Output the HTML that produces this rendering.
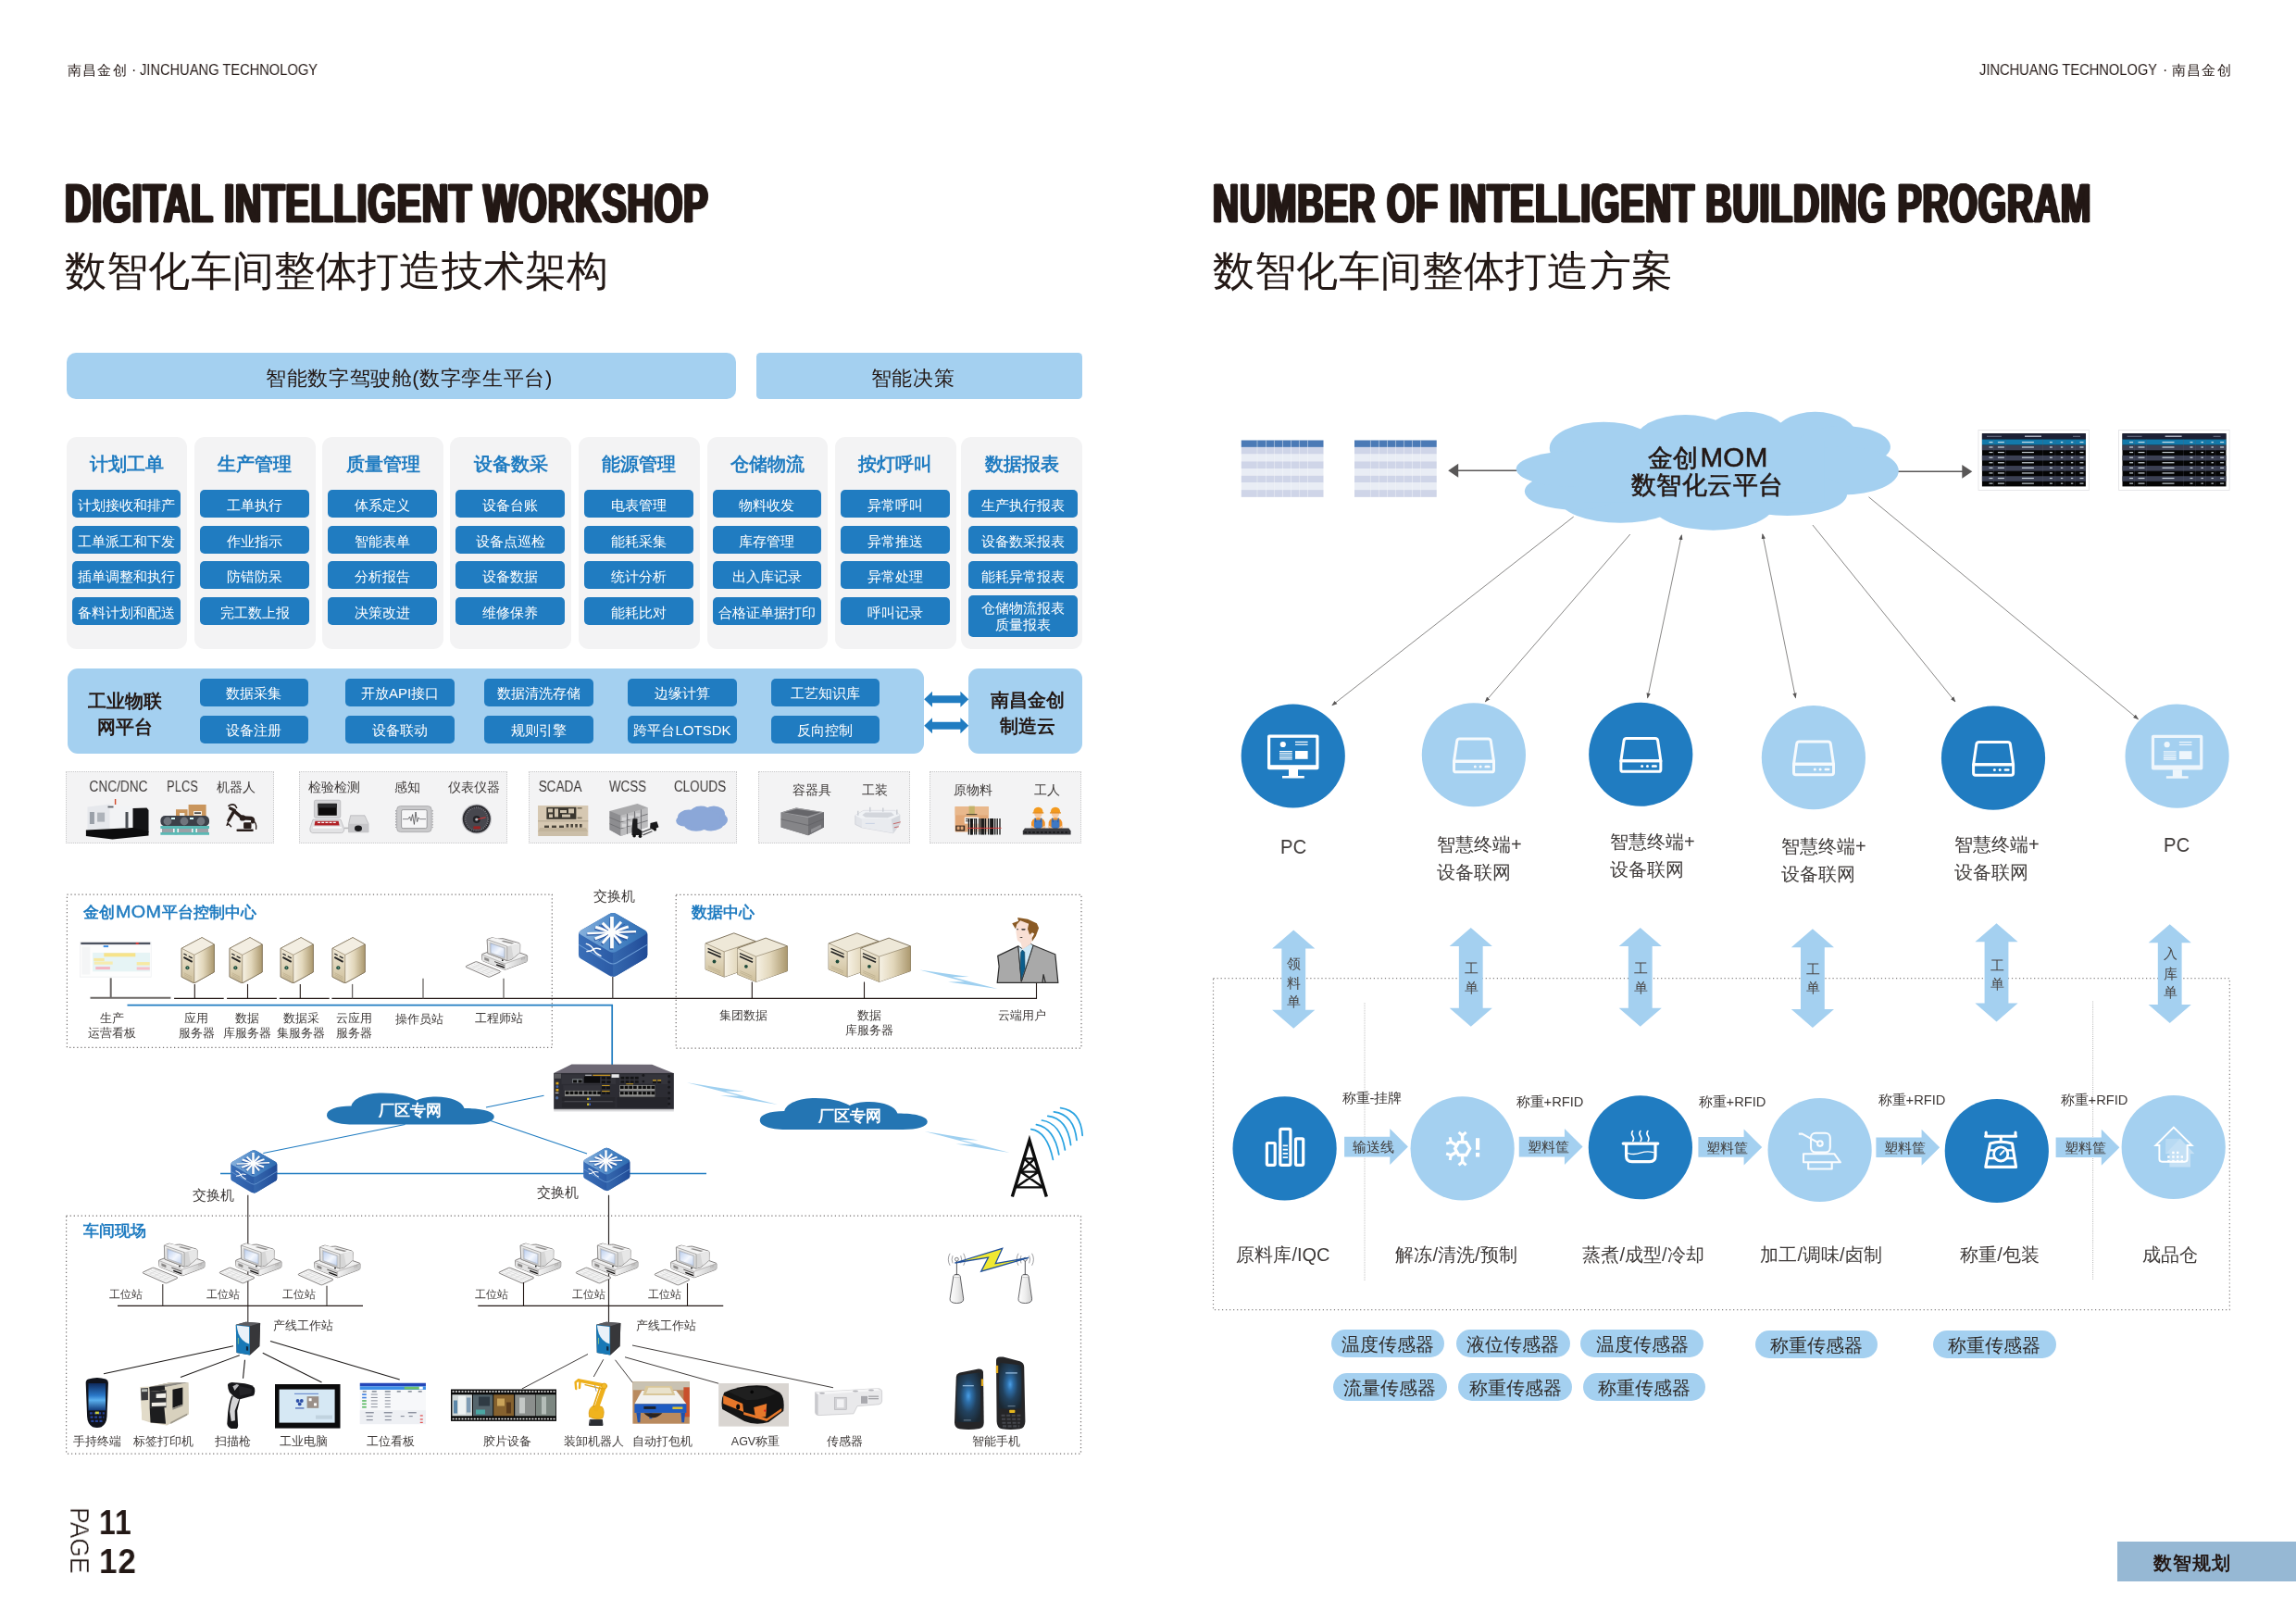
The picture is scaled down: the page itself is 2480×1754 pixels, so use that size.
<!DOCTYPE html>
<html lang="zh"><head><meta charset="utf-8"><title>Digital Intelligent Workshop</title>
<style>
html,body{margin:0;padding:0;background:#fff;}
body{width:2480px;height:1754px;overflow:hidden;font-family:"Liberation Sans",sans-serif;}
#page{position:relative;width:2480px;height:1754px;overflow:hidden;background:#fff;}
.t{will-change:transform;}
.t{position:absolute;white-space:nowrap;margin:0;padding:0;}
.b{position:absolute;}
svg.ov{position:absolute;left:0;top:0;}
</style></head><body><div id="page">
<div class="b" style="left:72.00px;top:381.00px;width:723.10px;height:50.00px;background:#a4d0f0;border-radius:10px;"></div>
<div class="b" style="left:817.20px;top:381.00px;width:352.00px;height:50.00px;background:#a4d0f0;border-radius:4.5px;"></div>
<div class="b" style="left:71.50px;top:471.50px;width:130.50px;height:229.25px;background:#f3f3f4;border-radius:11px;"></div>
<div class="b" style="left:77.60px;top:529.10px;width:117.50px;height:30.00px;background:#207cc1;border-radius:5px;"></div>
<div class="b" style="left:77.60px;top:567.90px;width:117.50px;height:30.00px;background:#207cc1;border-radius:5px;"></div>
<div class="b" style="left:77.60px;top:606.20px;width:117.50px;height:30.00px;background:#207cc1;border-radius:5px;"></div>
<div class="b" style="left:77.60px;top:644.90px;width:117.50px;height:30.00px;background:#207cc1;border-radius:5px;"></div>
<div class="b" style="left:210.00px;top:471.50px;width:130.50px;height:229.25px;background:#f3f3f4;border-radius:11px;"></div>
<div class="b" style="left:216.10px;top:529.10px;width:117.50px;height:30.00px;background:#207cc1;border-radius:5px;"></div>
<div class="b" style="left:216.10px;top:567.90px;width:117.50px;height:30.00px;background:#207cc1;border-radius:5px;"></div>
<div class="b" style="left:216.10px;top:606.20px;width:117.50px;height:30.00px;background:#207cc1;border-radius:5px;"></div>
<div class="b" style="left:216.10px;top:644.90px;width:117.50px;height:30.00px;background:#207cc1;border-radius:5px;"></div>
<div class="b" style="left:348.25px;top:471.50px;width:130.50px;height:229.25px;background:#f3f3f4;border-radius:11px;"></div>
<div class="b" style="left:354.35px;top:529.10px;width:117.50px;height:30.00px;background:#207cc1;border-radius:5px;"></div>
<div class="b" style="left:354.35px;top:567.90px;width:117.50px;height:30.00px;background:#207cc1;border-radius:5px;"></div>
<div class="b" style="left:354.35px;top:606.20px;width:117.50px;height:30.00px;background:#207cc1;border-radius:5px;"></div>
<div class="b" style="left:354.35px;top:644.90px;width:117.50px;height:30.00px;background:#207cc1;border-radius:5px;"></div>
<div class="b" style="left:486.25px;top:471.50px;width:130.50px;height:229.25px;background:#f3f3f4;border-radius:11px;"></div>
<div class="b" style="left:492.35px;top:529.10px;width:117.50px;height:30.00px;background:#207cc1;border-radius:5px;"></div>
<div class="b" style="left:492.35px;top:567.90px;width:117.50px;height:30.00px;background:#207cc1;border-radius:5px;"></div>
<div class="b" style="left:492.35px;top:606.20px;width:117.50px;height:30.00px;background:#207cc1;border-radius:5px;"></div>
<div class="b" style="left:492.35px;top:644.90px;width:117.50px;height:30.00px;background:#207cc1;border-radius:5px;"></div>
<div class="b" style="left:625.00px;top:471.50px;width:130.50px;height:229.25px;background:#f3f3f4;border-radius:11px;"></div>
<div class="b" style="left:631.10px;top:529.10px;width:117.50px;height:30.00px;background:#207cc1;border-radius:5px;"></div>
<div class="b" style="left:631.10px;top:567.90px;width:117.50px;height:30.00px;background:#207cc1;border-radius:5px;"></div>
<div class="b" style="left:631.10px;top:606.20px;width:117.50px;height:30.00px;background:#207cc1;border-radius:5px;"></div>
<div class="b" style="left:631.10px;top:644.90px;width:117.50px;height:30.00px;background:#207cc1;border-radius:5px;"></div>
<div class="b" style="left:763.50px;top:471.50px;width:130.50px;height:229.25px;background:#f3f3f4;border-radius:11px;"></div>
<div class="b" style="left:769.60px;top:529.10px;width:117.50px;height:30.00px;background:#207cc1;border-radius:5px;"></div>
<div class="b" style="left:769.60px;top:567.90px;width:117.50px;height:30.00px;background:#207cc1;border-radius:5px;"></div>
<div class="b" style="left:769.60px;top:606.20px;width:117.50px;height:30.00px;background:#207cc1;border-radius:5px;"></div>
<div class="b" style="left:769.60px;top:644.90px;width:117.50px;height:30.00px;background:#207cc1;border-radius:5px;"></div>
<div class="b" style="left:902.00px;top:471.50px;width:130.50px;height:229.25px;background:#f3f3f4;border-radius:11px;"></div>
<div class="b" style="left:908.10px;top:529.10px;width:117.50px;height:30.00px;background:#207cc1;border-radius:5px;"></div>
<div class="b" style="left:908.10px;top:567.90px;width:117.50px;height:30.00px;background:#207cc1;border-radius:5px;"></div>
<div class="b" style="left:908.10px;top:606.20px;width:117.50px;height:30.00px;background:#207cc1;border-radius:5px;"></div>
<div class="b" style="left:908.10px;top:644.90px;width:117.50px;height:30.00px;background:#207cc1;border-radius:5px;"></div>
<div class="b" style="left:1038.25px;top:471.50px;width:130.50px;height:229.25px;background:#f3f3f4;border-radius:11px;"></div>
<div class="b" style="left:1046.05px;top:529.10px;width:117.50px;height:30.00px;background:#207cc1;border-radius:5px;"></div>
<div class="b" style="left:1046.05px;top:567.90px;width:117.50px;height:30.00px;background:#207cc1;border-radius:5px;"></div>
<div class="b" style="left:1046.05px;top:606.20px;width:117.50px;height:30.00px;background:#207cc1;border-radius:5px;"></div>
<div class="b" style="left:1046.05px;top:642.75px;width:117.50px;height:44.75px;background:#207cc1;border-radius:5px;"></div>
<div class="b" style="left:72.50px;top:721.50px;width:925.50px;height:92.75px;background:#a4d0f0;border-radius:11px;"></div>
<div class="b" style="left:1046.25px;top:721.50px;width:122.50px;height:92.75px;background:#a4d0f0;border-radius:11px;"></div>
<div class="b" style="left:215.50px;top:732.50px;width:117.50px;height:30.00px;background:#207cc1;border-radius:5px;"></div>
<div class="b" style="left:215.50px;top:772.50px;width:117.50px;height:30.00px;background:#207cc1;border-radius:5px;"></div>
<div class="b" style="left:373.00px;top:732.50px;width:117.50px;height:30.00px;background:#207cc1;border-radius:5px;"></div>
<div class="b" style="left:373.00px;top:772.50px;width:117.50px;height:30.00px;background:#207cc1;border-radius:5px;"></div>
<div class="b" style="left:523.25px;top:732.50px;width:117.50px;height:30.00px;background:#207cc1;border-radius:5px;"></div>
<div class="b" style="left:523.25px;top:772.50px;width:117.50px;height:30.00px;background:#207cc1;border-radius:5px;"></div>
<div class="b" style="left:678.00px;top:732.50px;width:117.50px;height:30.00px;background:#207cc1;border-radius:5px;"></div>
<div class="b" style="left:678.00px;top:772.50px;width:117.50px;height:30.00px;background:#207cc1;border-radius:5px;"></div>
<div class="b" style="left:832.50px;top:732.50px;width:117.50px;height:30.00px;background:#207cc1;border-radius:5px;"></div>
<div class="b" style="left:832.50px;top:772.50px;width:117.50px;height:30.00px;background:#207cc1;border-radius:5px;"></div>
<div class="b" style="left:71.25px;top:832.50px;width:224.50px;height:78.00px;background:#f3f3f4;border:1px dotted #c9c9ca;box-sizing:border-box;"></div>
<div class="b" style="left:323.00px;top:832.50px;width:224.50px;height:78.00px;background:#f3f3f4;border:1px dotted #c9c9ca;box-sizing:border-box;"></div>
<div class="b" style="left:571.25px;top:832.50px;width:224.50px;height:78.00px;background:#f3f3f4;border:1px dotted #c9c9ca;box-sizing:border-box;"></div>
<div class="b" style="left:819.00px;top:832.50px;width:163.75px;height:78.00px;background:#f3f3f4;border:1px dotted #c9c9ca;box-sizing:border-box;"></div>
<div class="b" style="left:1003.75px;top:832.50px;width:164.50px;height:78.00px;background:#f3f3f4;border:1px dotted #c9c9ca;box-sizing:border-box;"></div>
<div class="b" style="left:1437.50px;top:1435.90px;width:122.70px;height:30.30px;background:#a4d0f0;border-radius:15.2px;"></div>
<div class="b" style="left:1572.60px;top:1435.90px;width:123.10px;height:30.30px;background:#a4d0f0;border-radius:15.2px;"></div>
<div class="b" style="left:1707.10px;top:1435.90px;width:133.10px;height:30.30px;background:#a4d0f0;border-radius:15.2px;"></div>
<div class="b" style="left:1895.80px;top:1436.90px;width:132.60px;height:30.30px;background:#a4d0f0;border-radius:15.2px;"></div>
<div class="b" style="left:2088.00px;top:1436.90px;width:132.60px;height:30.30px;background:#a4d0f0;border-radius:15.2px;"></div>
<div class="b" style="left:1439.50px;top:1483.10px;width:123.20px;height:30.30px;background:#a4d0f0;border-radius:15.2px;"></div>
<div class="b" style="left:1575.10px;top:1483.10px;width:123.10px;height:30.30px;background:#a4d0f0;border-radius:15.2px;"></div>
<div class="b" style="left:1709.60px;top:1483.10px;width:132.60px;height:30.30px;background:#a4d0f0;border-radius:15.2px;"></div>
<div class="b" style="left:2286.60px;top:1665.00px;width:193.40px;height:42.70px;background:#96b8d4;"></div>
<svg class="ov" width="2480" height="1754" viewBox="0 0 2480 1754">
<defs>
<linearGradient id="gSrvR" x1="0" y1="0" x2="1" y2="0"><stop offset="0" stop-color="#f6f1e4"/><stop offset="0.45" stop-color="#e2d7bb"/><stop offset="1" stop-color="#ab986e"/></linearGradient>
<linearGradient id="gSrvF" x1="0" y1="0" x2="0" y2="1"><stop offset="0" stop-color="#efe8d6"/><stop offset="1" stop-color="#cfc09c"/></linearGradient>
<linearGradient id="gSwT" x1="0" y1="0" x2="1" y2="0"><stop offset="0" stop-color="#86b0dc"/><stop offset="0.55" stop-color="#4a86c6"/><stop offset="1" stop-color="#2e6bb0"/></linearGradient>
<linearGradient id="gSwL" x1="0" y1="0" x2="1" y2="0"><stop offset="0" stop-color="#3a6fb8"/><stop offset="1" stop-color="#1d4793"/></linearGradient>
<linearGradient id="gSwR" x1="0" y1="0" x2="1" y2="0"><stop offset="0" stop-color="#3568ae"/><stop offset="0.6" stop-color="#2a58a2"/><stop offset="1" stop-color="#1f4a96"/></linearGradient>
<linearGradient id="gScr" x1="0" y1="0" x2="1" y2="1"><stop offset="0" stop-color="#b9cdee"/><stop offset="0.55" stop-color="#f4f7fd"/><stop offset="1" stop-color="#c3d3ee"/></linearGradient>
<linearGradient id="gPcB" x1="0" y1="0" x2="1" y2="0"><stop offset="0" stop-color="#f4f4f4"/><stop offset="1" stop-color="#c4c4c4"/></linearGradient>
<symbol id="srv" viewBox="0 0 36 50" overflow="visible">
 <path d="M22.2 0 L35.5 7.4 L35.5 37.8 L14.5 49.4 Q12.5 49.6 11 48.6 L0 43 L0 11.8 Z" fill="#e9e1cc" stroke="#6f6249" stroke-width="0.9" stroke-linejoin="round"/>
 <path d="M22.2 0 L35.5 7.4 L13.8 19 L0 11.8 Z" fill="#f3eee2"/>
 <path d="M13.8 19 L35.5 7.4 L35.5 37.8 L13.8 49.3 Z" fill="url(#gSrvR)"/>
 <path d="M0 11.8 L13.8 19 L13.8 49.3 L0 43 Z" fill="url(#gSrvF)"/>
 <path d="M22.2 0 L35.5 7.4 L35.5 37.8 L14.5 49.4 Q12.5 49.6 11 48.6 L0 43 L0 11.8 Z M0 11.8 L13.8 19 L35.5 7.4 M13.8 19 L13.8 49.3" fill="none" stroke="#7d6f55" stroke-width="0.6" stroke-linejoin="round"/>
 <path d="M2.2 17.6 L5.6 19.4 M7.6 20.4 L11.6 22.5" stroke="#222" stroke-width="1.3"/>
 <path d="M2.2 21.6 L11.6 26.6" stroke="#222" stroke-width="1.9"/>
 <circle cx="6.3" cy="33" r="2.1" fill="#1d4a3a"/><circle cx="6.3" cy="33" r="0.8" fill="#7fb39c"/>
 <path d="M2.4 38.6 L11.4 43.2 M2.4 40.4 L11.4 45 M2.4 42.2 L11.4 46.8" stroke="#b9ab8b" stroke-width="0.7"/>
</symbol>
<symbol id="pc" viewBox="0 0 67.2 42.6" overflow="visible">
 <!-- keyboard -->
 <path d="M0.6 31.9 Q-0.2 31.2 1 30.6 L10.6 26.2 Q11.6 25.8 12.6 26.2 L37.4 36.2 Q38.6 36.8 37.4 37.5 L26.6 42.4 Q25.5 42.9 24.4 42.4 Z" fill="#f7f7f7" stroke="#6f6b6a" stroke-width="0.85" stroke-linejoin="round"/>
 <path d="M3.4 31.2 L27 40.9 M6.2 29.9 L29.8 39.6 M9 28.6 L32.6 38.3 M11.4 27.4 L35 37.1 M7.6 32.9 L14.8 29.6 M12.6 35 L19.8 31.7 M17.6 37.1 L24.8 33.8 M22.6 39.2 L29.8 35.9" stroke="#cfcfcf" stroke-width="0.55" fill="none"/>
 <!-- base case -->
 <path d="M17.8 18.6 Q17.6 17.8 18.6 17.6 L40 9.6 L66.4 19 Q67.2 19.4 67.1 20.2 L67 24.8 Q67 25.6 66 26.1 L44 34.3 Q42.7 34.8 41.4 34.2 L19 25.2 Q18.1 24.8 18.1 24 Z" fill="#efefef" stroke="#6f6b6a" stroke-width="0.85" stroke-linejoin="round"/>
 <path d="M18.1 18.4 L42.7 28.1 L42.7 34.5 L19 25.2 Q18.1 24.8 18.1 24 Z" fill="#e2e2e2"/>
 <path d="M42.7 28.1 L67 19.6 L67 24.8 Q67 25.6 66 26.1 L42.7 34.5 Z" fill="url(#gPcB)"/>
 <path d="M18.1 18.4 L42.7 28.1 L67 19.6 M42.7 28.1 L42.7 34.4" fill="none" stroke="#8a8786" stroke-width="0.5"/>
 <path d="M20.5 21.1 L25.5 23.1 L25.5 26.1 L20.5 24.1 Z" fill="#8c8a89"/>
 <path d="M31.4 25.9 L42.1 29.9" stroke="#3b3837" stroke-width="0.9"/>
 <path d="M33.4 29.2 L42.1 32.4" stroke="#0f0d0d" stroke-width="1.5"/>
 <path d="M61 21.4 L61 24.4 M62.4 20.9 L62.4 23.9 M63.8 20.4 L63.8 23.4" stroke="#a6a4a3" stroke-width="0.6"/>
 <!-- monitor -->
 <path d="M23.5 2.6 Q23.4 1.6 24.4 1.4 L28.6 0 Q29.6 -0.2 31 0.4 Q34 2 38.4 1 Q40.4 0.6 42 1.2 L58 5.8 Q59.2 6.3 59.2 7.4 L59 16.1 L50 23.6 L45.1 24.9 L24.1 16.9 Z" fill="#e9e9e9" stroke="#6f6b6a" stroke-width="0.85" stroke-linejoin="round"/>
 <path d="M23.5 1.9 L29.4 -0.05 L59 6.4 L45.1 9.4 Z" fill="#f5f5f5"/>
 <path d="M45.1 9.4 L59 6.4 L59 16.1 L50 23.4 L45.1 24.7 Z" fill="#d6d6d6"/>
 <path d="M49.6 8.6 L58.8 6.6 L58.8 15.8 L52 21.4 Z" fill="#ebebeb" opacity="0.8"/>
 <path d="M41.2 3 L52.8 5.7 L50.2 6.7 L38.8 3.9 Z" fill="#8f8d8c"/>
 <path d="M23.5 1.9 L45.1 9.4 L45.1 24.7 L24.1 16.7 Z" fill="#ededed" stroke="#7b7877" stroke-width="0.6" stroke-linejoin="round"/>
 <path d="M26.2 5 L43.2 11 L43.2 22.9 L26.5 16.6 Z" fill="#e1e1e1" stroke="#9a9897" stroke-width="0.4"/>
 <path d="M27.1 6.1 L42.1 11.4 L42.1 21.7 L27.4 16.4 Z" fill="url(#gScr)" stroke="#8d97ab" stroke-width="0.45"/>
 <circle cx="40.1" cy="24.5" r="0.85" fill="#111"/>
</symbol>
<symbol id="sw" viewBox="0 0 74.3 69.3" overflow="visible">
 <path d="M33 1.4 Q37.1 -0.9 41.2 1.4 L71.6 19 Q74.3 20.6 74.3 23.6 L74.3 45.6 Q74.3 48.4 71.8 49.8 L41.4 67.8 Q37.1 70.2 32.8 67.8 L2.5 49.8 Q0 48.4 0 45.6 L0 23.6 Q0 20.6 2.6 19 Z" fill="url(#gSwL)"/>
 <path d="M37.1 43.8 L74.3 22 L74.3 45.6 Q74.3 48.4 71.8 49.8 L41.4 67.8 Q39.2 69 37.1 69.3 Z" fill="url(#gSwR)"/>
 <path d="M33 1.4 Q37.1 -0.9 41.2 1.4 L71.6 19 Q75.6 21.6 71.6 24 L41.2 41.8 Q37.1 44.2 33 41.8 L2.7 24 Q-1.3 21.6 2.7 19 Z" fill="url(#gSwT)"/>
 <path d="M0.2 34.6 L32.8 54 Q37.1 56.4 41.4 54 L74.1 34.6" fill="none" stroke="#6d9dd6" stroke-width="1.1"/>
 <g stroke="#1f4a98" stroke-linecap="butt" opacity="0.7" transform="translate(-0.8,1.4)" fill="none">
  <path d="M36 4.2 L36 38.5" stroke-width="3.8"/><path d="M9.4 22.4 L62.1 20.4" stroke-width="2.2"/><path d="M36 21.1 L18.3 15.5 M36 21.1 L25.8 11.1 M36 21.1 L46 10 M36 21.1 L53.8 15 M36 21.1 L17.7 28 M36 21.1 L25.8 33 M36 21.1 L53.2 27.4 M36 21.1 L45.7 33" stroke-width="3"/></g>
 <g stroke="#fdfdfd" stroke-linecap="butt" fill="none">
  <path d="M36 4.2 L36 38.5" stroke-width="3.8"/>
  <path d="M9.4 22.4 L62.1 20.4" stroke-width="2.2"/>
  <path d="M36 21.1 L18.3 15.5 M36 21.1 L25.8 11.1 M36 21.1 L46 10 M36 21.1 L53.8 15 M36 21.1 L17.7 28 M36 21.1 L25.8 33 M36 21.1 L53.2 27.4 M36 21.1 L45.7 33" stroke-width="3"/>
 </g>
 <path d="M32.08 18.92 L22.00 13.30 M39.89 18.69 L49.90 12.50 M32.00 23.73 L21.70 30.50 M39.78 23.65 L49.50 30.20" stroke="#2a57a6" stroke-width="0.95" fill="none"/>
 <path d="M8.4 33.6 Q14 35.2 16 39.6 Q18 44 24 46.6 M9 41.8 Q13.6 41.6 16 39.6 Q18.6 37.4 23.6 39.4" fill="none" stroke="#fff" stroke-width="1.5" stroke-linecap="round"/>
</symbol>
<symbol id="ws" viewBox="0 0 27 36" overflow="visible">
 <path d="M0.3 3 L11 0 L26.6 1.2 L25.8 26.2 L15.4 35.8 L1 33.2 Z" fill="#3c3c3e"/>
 <path d="M0.3 3 L11 0 L26.6 1.2 L15.4 4.6 Z" fill="#5c5c60"/>
 <path d="M15.4 4.6 L26.6 1.2 L25.8 26.2 L15.4 35.8 Z" fill="#37373a"/>
 <path d="M0.3 3 L15.4 4.6 L15.4 35.8 L1 33.2 Z" fill="#1878b6"/>
 <path d="M1.2 3.6 L14.6 5.1 L14.6 23.6 Q6.4 21.2 3 12.4 Q1.8 8.6 1.2 3.6 Z" fill="#e9f1f8"/>
 <path d="M11.4 26.2 L13.6 26.6 L13.6 31 L11.4 30.6 Z" fill="#14293f"/>
 <path d="M2.4 17 L3.2 17.2 L3.2 24 L2.4 23.8 Z" fill="#9fd27e"/>
</symbol>
</defs><defs><marker id="ah" viewBox="0 0 10 10" refX="8.5" refY="5" markerWidth="7.5" markerHeight="7.5" orient="auto-start-reverse"><path d="M0 1.4 L10 5 L0 8.6 Z" fill="#595757"/></marker></defs>
<path d="M998.2 755.25 l8.8 -8.4 v4.4 h30.4 v-4.4 l8.8 8.4 l-8.8 8.4 v-4.4 h-30.4 v4.4 z" fill="#207cc1"/>
<path d="M998.2 783.75 l8.8 -8.4 v4.4 h30.4 v-4.4 l8.8 8.4 l-8.8 8.4 v-4.4 h-30.4 v4.4 z" fill="#207cc1"/>
<rect x="72.40" y="966.10" width="523.90" height="165.20" fill="none" stroke="#777373" stroke-width="1.25" stroke-dasharray="1.25 2.78"/>
<rect x="730.20" y="966.40" width="437.80" height="165.60" fill="none" stroke="#777373" stroke-width="1.25" stroke-dasharray="1.25 2.78"/>
<line x1="97.50" y1="1077.70" x2="184.40" y2="1077.70" stroke="#6b6765" stroke-width="2" />
<line x1="119.70" y1="1056.30" x2="119.70" y2="1077.70" stroke="#6b6765" stroke-width="2" />
<line x1="188.10" y1="1078.40" x2="241.70" y2="1078.40" stroke="#231815" stroke-width="1.2" />
<line x1="245.10" y1="1078.40" x2="298.90" y2="1078.40" stroke="#231815" stroke-width="1.2" />
<line x1="301.80" y1="1078.40" x2="355.70" y2="1078.40" stroke="#231815" stroke-width="1.2" />
<line x1="358.40" y1="1078.40" x2="1120.00" y2="1078.40" stroke="#231815" stroke-width="1.2" />
<line x1="210.30" y1="1062.90" x2="210.30" y2="1078.40" stroke="#231815" stroke-width="1.1" />
<line x1="267.50" y1="1062.90" x2="267.50" y2="1078.40" stroke="#231815" stroke-width="1.1" />
<line x1="324.30" y1="1062.90" x2="324.30" y2="1078.40" stroke="#231815" stroke-width="1.1" />
<line x1="380.60" y1="1062.90" x2="380.60" y2="1078.40" stroke="#6b6765" stroke-width="1.3" />
<line x1="457.00" y1="1056.70" x2="457.00" y2="1078.40" stroke="#6b6765" stroke-width="1.3" />
<line x1="544.00" y1="1056.70" x2="544.00" y2="1078.40" stroke="#6b6765" stroke-width="1.3" />
<line x1="661.80" y1="1055.00" x2="661.80" y2="1078.40" stroke="#4a4543" stroke-width="1.3" />
<line x1="812.30" y1="1060.50" x2="812.30" y2="1079.00" stroke="#231815" stroke-width="1.1" />
<line x1="933.50" y1="1060.50" x2="933.50" y2="1079.00" stroke="#231815" stroke-width="1.1" />
<line x1="1119.50" y1="1061.50" x2="1119.50" y2="1079.00" stroke="#231815" stroke-width="1.1" />
<path d="M137.5 1085.7 H661.2 V1150" fill="none" stroke="#207cc1" stroke-width="1.7"/>
<g transform="translate(86.7,1017.5)"><rect x="-0.6" y="-0.4" width="77.4" height="38.4" fill="#e6e7ea" opacity="0.8"/><rect x="0" y="0" width="76.2" height="37.3" fill="#fdfdfd"/>
<rect x="0.6" y="0.3" width="75" height="2.3" fill="#4d5360"/><rect x="60" y="0.5" width="3" height="1.8" fill="#d33"/><rect x="25" y="3.6" width="5.4" height="2" fill="#3f8fe6"/>
<rect x="13.4" y="11.4" width="62" height="20.4" fill="#e6f4f5"/><rect x="25.6" y="11.8" width="34" height="4" fill="#f7e38a"/><rect x="14.6" y="17.4" width="11.4" height="3" fill="#f7e8a0"/><rect x="15" y="21" width="20" height="3.2" fill="#f6ecb0"/><rect x="61" y="21.6" width="14" height="3.4" fill="#f7e9a4"/>
<rect x="16.6" y="26.6" width="15.6" height="3" fill="#f4b6c2"/><rect x="61" y="27" width="14" height="3" fill="#f6c1cb"/><rect x="1.6" y="5" width="9" height="30" fill="#f4f5f6"/></g>
<use href="#srv" x="196.20" y="1012.60" width="35.60" height="49.40"/>
<use href="#srv" x="248.10" y="1012.60" width="35.60" height="49.40"/>
<use href="#srv" x="303.20" y="1012.60" width="35.60" height="49.40"/>
<use href="#srv" x="359.10" y="1012.60" width="35.60" height="49.40"/>
<use href="#pc" x="502.60" y="1012.80" width="67.40" height="42.40"/>
<use href="#sw" x="624.96" y="985.80" width="74.30" height="69.30"/>
<g transform="translate(762.10,1007.80) scale(0.94,0.973)">
 <path d="M32.6 0 L57.4 9 L57.4 36.6 L21.4 48.6 L0 40.2 L0 11.4 Z" fill="#eee8d8" stroke="#6f6249" stroke-width="0.9" stroke-linejoin="round"/>
 <path d="M21.4 20.6 L57.4 9 L57.4 36.6 L21.4 48.6 Z" fill="url(#gSrvR)"/>
 <path d="M0 11.4 L21.4 20.6 L21.4 48.6 L0 40.2 Z" fill="url(#gSrvF)"/>
 <path d="M0 11.4 L21.4 20.6 L57.4 9 M21.4 20.6 L21.4 48.6" fill="none" stroke="#7d6f55" stroke-width="0.6"/>
 <path d="M2.6 17 L17.6 23.4" stroke="#222" stroke-width="1.2"/><path d="M2.6 20.4 L17.6 26.8" stroke="#222" stroke-width="1.7"/>
 <circle cx="10" cy="31.6" r="2" fill="#1d4a3a"/><path d="M3 36.4 L17 42.4 M3 38.4 L17 44.4" stroke="#b7a988" stroke-width="0.7"/></g>
<g transform="translate(796.50,1013.10) scale(0.94,0.973)">
 <path d="M32.6 0 L57.4 9 L57.4 36.6 L21.4 48.6 L0 40.2 L0 11.4 Z" fill="#eee8d8" stroke="#6f6249" stroke-width="0.9" stroke-linejoin="round"/>
 <path d="M21.4 20.6 L57.4 9 L57.4 36.6 L21.4 48.6 Z" fill="url(#gSrvR)"/>
 <path d="M0 11.4 L21.4 20.6 L21.4 48.6 L0 40.2 Z" fill="url(#gSrvF)"/>
 <path d="M0 11.4 L21.4 20.6 L57.4 9 M21.4 20.6 L21.4 48.6" fill="none" stroke="#7d6f55" stroke-width="0.6"/>
 <path d="M2.6 17 L17.6 23.4" stroke="#222" stroke-width="1.2"/><path d="M2.6 20.4 L17.6 26.8" stroke="#222" stroke-width="1.7"/>
 <circle cx="10" cy="31.6" r="2" fill="#1d4a3a"/><path d="M3 36.4 L17 42.4 M3 38.4 L17 44.4" stroke="#b7a988" stroke-width="0.7"/></g>
<g transform="translate(895.10,1007.80) scale(0.94,0.973)">
 <path d="M32.6 0 L57.4 9 L57.4 36.6 L21.4 48.6 L0 40.2 L0 11.4 Z" fill="#eee8d8" stroke="#6f6249" stroke-width="0.9" stroke-linejoin="round"/>
 <path d="M21.4 20.6 L57.4 9 L57.4 36.6 L21.4 48.6 Z" fill="url(#gSrvR)"/>
 <path d="M0 11.4 L21.4 20.6 L21.4 48.6 L0 40.2 Z" fill="url(#gSrvF)"/>
 <path d="M0 11.4 L21.4 20.6 L57.4 9 M21.4 20.6 L21.4 48.6" fill="none" stroke="#7d6f55" stroke-width="0.6"/>
 <path d="M2.6 17 L17.6 23.4" stroke="#222" stroke-width="1.2"/><path d="M2.6 20.4 L17.6 26.8" stroke="#222" stroke-width="1.7"/>
 <circle cx="10" cy="31.6" r="2" fill="#1d4a3a"/><path d="M3 36.4 L17 42.4 M3 38.4 L17 44.4" stroke="#b7a988" stroke-width="0.7"/></g>
<g transform="translate(929.50,1013.10) scale(0.94,0.973)">
 <path d="M32.6 0 L57.4 9 L57.4 36.6 L21.4 48.6 L0 40.2 L0 11.4 Z" fill="#eee8d8" stroke="#6f6249" stroke-width="0.9" stroke-linejoin="round"/>
 <path d="M21.4 20.6 L57.4 9 L57.4 36.6 L21.4 48.6 Z" fill="url(#gSrvR)"/>
 <path d="M0 11.4 L21.4 20.6 L21.4 48.6 L0 40.2 Z" fill="url(#gSrvF)"/>
 <path d="M0 11.4 L21.4 20.6 L57.4 9 M21.4 20.6 L21.4 48.6" fill="none" stroke="#7d6f55" stroke-width="0.6"/>
 <path d="M2.6 17 L17.6 23.4" stroke="#222" stroke-width="1.2"/><path d="M2.6 20.4 L17.6 26.8" stroke="#222" stroke-width="1.7"/>
 <circle cx="10" cy="31.6" r="2" fill="#1d4a3a"/><path d="M3 36.4 L17 42.4 M3 38.4 L17 44.4" stroke="#b7a988" stroke-width="0.7"/></g>
<g transform="translate(1060,980) scale(0.05543)" stroke-linejoin="round">
<path d="M310 1470 L345 1150 L320 945 L720 755 L780 1440 L1010 740 L1440 915 L1495 1470 Z" fill="#a9a9a9" stroke="#2d2d2d" stroke-width="22"/>
<path d="M720 755 L780 1440 L1010 740 L960 706 L790 800 Z" fill="#cfe8f6" stroke="#2d2d2d" stroke-width="16"/>
<path d="M770 870 L800 830 L842 872 L850 1190 L782 1400 L760 1190 Z" fill="#0a5d8c" stroke="#143a52" stroke-width="10"/>
<path d="M690 330 L760 255 L905 300 L935 520 L1000 500 L982 660 L962 712 L800 822 L772 700 L702 640 L675 480 Z" fill="#f8dfd4"/>
<path d="M600 312 L722 268 L706 200 L905 228 L1080 312 L1120 400 L1062 560 L990 662 L986 600 L1030 512 L992 490 L940 532 L902 420 L922 322 L760 258 L690 332 L668 424 Z" fill="#8a5a24"/>
<path d="M780 420 L860 420 L850 440 L790 440 Z M690 420 L720 420 L716 438 L692 436 Z M740 580 L810 576 L780 596 Z" fill="#111"/>
<path d="M1190 1470 L1210 1310 L1250 1470" fill="none" stroke="#2d2d2d" stroke-width="22"/>
</g>
<path d="M993.2 1047.5 L1046.8 1054.9 L1028.8 1055.3 L1077.5 1068.0 L1024.0 1060.6 L1041.9 1060.2 Z" fill="#9fd0f0"/>
<g transform="translate(590,1140) scale(0.06533)">
<linearGradient id="gRef" x1="0" y1="0" x2="0" y2="1"><stop offset="0" stop-color="#b9b9bd"/><stop offset="1" stop-color="#ffffff"/></linearGradient>
<rect x="125" y="885" width="1985" height="55" fill="url(#gRef)"/>
<path d="M420 145 L1750 150 L2110 295 L125 290 Z" fill="#6d6874"/>
<rect x="125" y="290" width="1985" height="595" fill="#2c2c33"/>
<rect x="135" y="300" width="110" height="80" fill="#5a5a5e"/>
<rect x="250" y="312" width="900" height="160" fill="#34343b"/><rect x="1215" y="312" width="800" height="160" fill="#34343b"/>
<rect x="625" y="345" width="265" height="110" fill="#0c0c0e"/>
<rect x="430" y="385" width="170" height="70" fill="#6f7478"/><rect x="445" y="405" width="60" height="45" fill="#0b0b0b"/><rect x="530" y="405" width="60" height="45" fill="#0b0b0b"/>
<rect x="915" y="350" width="65" height="45" fill="#121214"/><rect x="1000" y="350" width="65" height="45" fill="#121214"/><rect x="915" y="415" width="65" height="45" fill="#121214"/><rect x="1000" y="415" width="65" height="45" fill="#121214"/>
<rect x="1080" y="310" width="125" height="56" fill="#e8e8ea"/>
<rect x="770" y="318" width="290" height="17" fill="#d8a021"/><rect x="645" y="318" width="105" height="14" fill="#d7d7d9"/>
<g fill="#141416"><rect x="1232" y="350" width="58" height="42"/><rect x="1310" y="350" width="58" height="42"/><rect x="1390" y="350" width="58" height="42"/><rect x="1468" y="350" width="58" height="42"/><rect x="1232" y="415" width="58" height="42"/><rect x="1310" y="415" width="58" height="42"/><rect x="1390" y="415" width="58" height="42"/><rect x="1468" y="415" width="58" height="42"/></g>
<rect x="1760" y="400" width="60" height="22" fill="#c79a22"/><rect x="1840" y="400" width="60" height="22" fill="#c79a22"/><rect x="1760" y="428" width="60" height="30" fill="#131315"/><rect x="1840" y="428" width="60" height="30" fill="#131315"/>
<rect x="1320" y="462" width="120" height="16" fill="#b8901f"/>
<rect x="160" y="440" width="45" height="40" fill="#d9a51e"/><rect x="160" y="550" width="45" height="40" fill="#d9a51e"/><circle cx="182" cy="515" r="22" fill="#3d62a8"/><circle cx="178" cy="700" r="26" fill="#4a6796"/><rect x="150" y="610" width="55" height="14" fill="#e8e8ea"/>
<rect x="280" y="490" width="620" height="85" fill="#33333a"/><rect x="920" y="490" width="130" height="15" fill="#c79a22"/><rect x="920" y="512" width="60" height="40" fill="#121214"/><rect x="995" y="512" width="60" height="40" fill="#121214"/>
<rect x="920" y="582" width="130" height="18" fill="#c79a22"/><rect x="920" y="606" width="60" height="34" fill="#121214"/><rect x="995" y="606" width="60" height="34" fill="#121214"/>
<rect x="305" y="580" width="590" height="92" fill="#8e8e8c"/>
<g fill="#0c0c0c"><rect x="318" y="592" width="58" height="50"/><rect x="392" y="592" width="58" height="50"/><rect x="466" y="592" width="58" height="50"/><rect x="540" y="592" width="58" height="50"/><rect x="624" y="592" width="58" height="50"/><rect x="698" y="592" width="58" height="50"/><rect x="772" y="592" width="58" height="50"/><rect x="846" y="592" width="58" height="50"/></g>
<rect x="1212" y="490" width="585" height="92" fill="#8e8e8c"/><rect x="1212" y="590" width="585" height="92" fill="#8e8e8c"/>
<g fill="#0c0c0c"><rect x="1224" y="502" width="56" height="48"/><rect x="1296" y="502" width="56" height="48"/><rect x="1368" y="502" width="56" height="48"/><rect x="1440" y="502" width="56" height="48"/><rect x="1522" y="502" width="56" height="48"/><rect x="1594" y="502" width="56" height="48"/><rect x="1666" y="502" width="56" height="48"/><rect x="1738" y="502" width="56" height="48"/>
<rect x="1224" y="598" width="56" height="48"/><rect x="1296" y="598" width="56" height="48"/><rect x="1368" y="598" width="56" height="48"/><rect x="1440" y="598" width="56" height="48"/><rect x="1522" y="598" width="56" height="48"/><rect x="1594" y="598" width="56" height="48"/><rect x="1666" y="598" width="56" height="48"/><rect x="1738" y="598" width="56" height="48"/></g>
<rect x="260" y="690" width="880" height="62" fill="#26262c"/><rect x="260" y="778" width="880" height="82" fill="#26262c"/><rect x="300" y="756" width="800" height="12" fill="#55555b"/>
<rect x="1170" y="690" width="840" height="170" fill="#25252b"/>
<rect x="675" y="700" width="35" height="35" fill="#d9c21e"/><rect x="710" y="700" width="25" height="35" fill="#3d62c8"/><rect x="675" y="790" width="35" height="35" fill="#d9c21e"/><rect x="710" y="790" width="25" height="35" fill="#3d62c8"/>
<g fill="#18181c"><circle cx="2030" cy="345" r="22"/><circle cx="2030" cy="440" r="22"/><circle cx="2030" cy="525" r="22"/><circle cx="2030" cy="620" r="22"/><circle cx="2030" cy="710" r="22"/><circle cx="2030" cy="800" r="22"/><circle cx="1605" cy="330" r="22"/><circle cx="1605" cy="430" r="22"/></g>
</g>
<g transform="translate(353.00,1180.00) scale(1.0000,1.0000)" fill="#2475b3">
<path d="M28 34.5 C10 34.5 0 30 0 24.5 C0 18.5 10 14.6 26.5 14.6 C28.5 6 42 0.4 60 0.4 C76 0.4 88 3.4 97 8.6 C102 6 110 4.6 118 4.6 C134 4.6 146 9.6 148.5 17 C168 17 180.75 20.4 180.75 26 C180.75 31.4 170 34.5 154 34.5 Z"/></g>
<g transform="translate(820.75,1185.50) scale(1.0014,1.0000)" fill="#2475b3">
<path d="M28 34.5 C10 34.5 0 30 0 24.5 C0 18.5 10 14.6 26.5 14.6 C28.5 6 42 0.4 60 0.4 C76 0.4 88 3.4 97 8.6 C102 6 110 4.6 118 4.6 C134 4.6 146 9.6 148.5 17 C168 17 180.75 20.4 180.75 26 C180.75 31.4 170 34.5 154 34.5 Z"/></g>
<line x1="238.00" y1="1267.50" x2="763.00" y2="1267.50" stroke="#207cc1" stroke-width="1.7" />
<line x1="284.25" y1="1245.50" x2="437.50" y2="1214.50" stroke="#207cc1" stroke-width="1.2" />
<line x1="525.00" y1="1196.00" x2="587.50" y2="1183.25" stroke="#207cc1" stroke-width="1.2" />
<line x1="530.00" y1="1210.50" x2="634.00" y2="1246.00" stroke="#207cc1" stroke-width="1.2" />
<use href="#sw" x="249.25" y="1242.00" width="50.00" height="46.75"/>
<use href="#sw" x="630.00" y="1239.50" width="50.50" height="46.75"/>
<path d="M742.0 1169.2 L803.9 1179.1 L783.3 1178.5 L840.0 1193.0 L778.1 1183.1 L798.7 1183.8 Z" fill="#9fd0f0"/>
<path d="M998.8 1222.0 L1057.0 1231.4 L1037.6 1230.9 L1090.8 1245.0 L1032.5 1235.6 L1051.9 1236.1 Z" fill="#9fd0f0"/>
<g transform="translate(1091.75,1230)" fill="none" stroke="#0d0d0d" stroke-linejoin="miter">
<path d="M1.6 62.6 L20.2 1.6 L38.6 62.6" stroke-width="3.4"/>
<path d="M14.4 21.4 L26 21.4 M10.6 35.6 L30 35.6 M14.4 21.4 L30 35.6 L5.4 52.4 M26 21.4 L10.6 35.6 L35 52.4 M5.4 52.4 L35 52.4" stroke-width="2.4"/>
</g>
<g fill="none" stroke="#2aa3e1" stroke-width="1.7" stroke-linecap="round">
<path d="M1113.8 1219.6 Q1131 1222 1137.4 1252.4"/><path d="M1119.4 1214.6 Q1138.6 1218 1143.8 1247"/><path d="M1125.4 1210 Q1145.6 1213 1150.4 1242"/><path d="M1131.8 1205.4 Q1153 1208 1156.6 1236.6"/><path d="M1138.4 1200.8 Q1160 1203.6 1163 1231.4"/><path d="M1145.6 1196.6 Q1167.4 1199.6 1169.2 1226.4"/>
</g>
<line x1="267.75" y1="1290.75" x2="267.75" y2="1428.50" stroke="#5b5654" stroke-width="1.4" />
<line x1="657.50" y1="1290.75" x2="657.50" y2="1428.50" stroke="#2f2a28" stroke-width="1.2" />
<rect x="71.60" y="1313.00" width="1095.90" height="257.00" fill="none" stroke="#777373" stroke-width="1.25" stroke-dasharray="1.25 2.78"/>
<use href="#pc" x="153.80" y="1343.20" width="67.40" height="42.60"/>
<use href="#pc" x="236.80" y="1343.20" width="67.40" height="42.60"/>
<use href="#pc" x="321.80" y="1345.20" width="67.40" height="42.60"/>
<use href="#pc" x="538.60" y="1343.20" width="67.40" height="42.60"/>
<use href="#pc" x="621.80" y="1343.20" width="67.40" height="42.60"/>
<use href="#pc" x="706.80" y="1345.20" width="67.40" height="42.60"/>
<line x1="127.00" y1="1410.30" x2="392.00" y2="1410.30" stroke="#231815" stroke-width="1.2" />
<line x1="516.25" y1="1410.30" x2="781.25" y2="1410.30" stroke="#231815" stroke-width="1.2" />
<line x1="175.75" y1="1387.00" x2="175.75" y2="1410.00" stroke="#5b5654" stroke-width="1.3" />
<line x1="353.00" y1="1388.75" x2="353.00" y2="1410.00" stroke="#5b5654" stroke-width="1.3" />
<line x1="565.50" y1="1385.00" x2="565.50" y2="1410.00" stroke="#231815" stroke-width="1.1" />
<line x1="742.50" y1="1386.00" x2="742.50" y2="1410.00" stroke="#231815" stroke-width="1.1" />
<use href="#ws" x="254.50" y="1427.80" width="27.00" height="36.00"/>
<use href="#ws" x="643.75" y="1427.80" width="27.00" height="36.00"/>
<line x1="252.00" y1="1453.75" x2="112.00" y2="1483.75" stroke="#1d1a19" stroke-width="1.1" />
<line x1="258.75" y1="1463.75" x2="195.00" y2="1487.50" stroke="#1d1a19" stroke-width="1.1" />
<line x1="264.50" y1="1468.75" x2="262.50" y2="1488.75" stroke="#1d1a19" stroke-width="1.1" />
<line x1="283.75" y1="1461.25" x2="347.50" y2="1493.00" stroke="#1d1a19" stroke-width="1.1" />
<line x1="292.00" y1="1448.50" x2="431.75" y2="1490.00" stroke="#1d1a19" stroke-width="1.1" />
<line x1="635.00" y1="1462.50" x2="563.75" y2="1500.00" stroke="#2a2625" stroke-width="0.9" />
<line x1="651.75" y1="1468.25" x2="641.25" y2="1487.00" stroke="#2a2625" stroke-width="0.9" />
<line x1="664.50" y1="1468.75" x2="683.75" y2="1493.75" stroke="#2a2625" stroke-width="0.9" />
<line x1="675.00" y1="1465.75" x2="776.25" y2="1494.25" stroke="#2a2625" stroke-width="0.9" />
<line x1="683.00" y1="1453.00" x2="900.00" y2="1498.75" stroke="#2a2625" stroke-width="0.9" />
<g transform="translate(92.5,1488)">
<defs><linearGradient id="gHh" x1="0" y1="0" x2="0" y2="1"><stop offset="0" stop-color="#0e2a5c"/><stop offset="0.45" stop-color="#2a78c8"/><stop offset="0.62" stop-color="#5ab0ee"/><stop offset="1" stop-color="#123a7a"/></linearGradient></defs>
<path d="M3 1.6 Q12.4 -1.4 21.8 1.6 Q24.6 2.6 24.4 6 L23 42 Q22.6 50 17 53.2 Q12.4 54.6 7.6 53.2 Q2 50 1.6 42 L0.2 6 Q0 2.6 3 1.6 Z" fill="#10131c"/>
<rect x="3" y="6" width="18.6" height="29.4" fill="url(#gHh)"/>
<path d="M4.4 38.4 H20.4 M5 42.6 H19.8 M5.8 46.8 H19" stroke="#26449a" stroke-width="2.2" stroke-dasharray="3 1.6"/>
<rect x="10.4" y="36.6" width="4" height="2.6" fill="#c9cf3a"/>
</g>
<g transform="translate(151.25,1492.5)">
<path d="M0.4 5.6 L9.5 5.2 L32.2 0.8 L52.2 0.8 L52.7 34.8 L28.7 47 L11.3 43.9 L2.1 40.9 Z" fill="#ddd6c4"/>
<path d="M10 5.6 L32.2 0.8 L52.2 0.8 L28.3 5.6 Z" fill="#8d8a84"/>
<path d="M10 5.6 L17 4.1 L40 1 L32.2 0.8 Z" fill="#d6cfbc"/>
<path d="M28.3 5.6 L52.2 0.8 L52.7 34.8 L28.7 47 Z" fill="#d8d1be"/>
<path d="M35.2 8.2 L46.1 6 L46.1 24.3 L35.2 28.3 Z" fill="#18181a"/>
<path d="M35.2 28.3 L46.1 24.3 L46.1 26 L35.2 30.2 Z" fill="#8a877f"/>
<path d="M0.4 5.6 L9.5 5.2 L9.5 41.8 L2.1 40.9 Z" fill="#e2dbc9"/>
<path d="M0.8 6.9 L8.7 6.5 L8.7 19.6 L1.3 20 Z" fill="#3b3b3d"/>
<path d="M1.6 8 L8 7.7 L8 10.4 L1.8 10.7 Z" fill="#b8bcb6"/>
<path d="M10 5.6 L26.5 3.9 L27 9.1 L10.4 10.4 Z" fill="#222224"/>
<path d="M10.4 10.4 L28.3 9.1 L28.3 27.8 L10.4 27.8 Z" fill="#2c2c2e"/>
<path d="M17.4 13 L27.8 12.3 L27.8 17.2 L17.4 17.5 Z" fill="#f1efe9"/>
<path d="M12.6 22.6 L28.3 21.9 L28.3 25.9 L12.6 26.5 Z" fill="#efece5"/>
<path d="M10.4 27.8 L26.1 27 L27.8 45.2 L11.3 43.9 Z" fill="#1d1d1f"/>
<path d="M33 43.4 L51 34 L51 36 L33 45.6 Z" fill="#9d988a"/>
</g>
<g transform="translate(245,1492)">
<path d="M5.5 15.3 L14.2 19.2 L11.2 31.8 L12 45.7 Q12.6 50 10.7 51 L4.6 51 Q0.6 49 0.3 45.7 L1.15 33.6 Q2.4 22 5.5 15.3 Z" fill="#151517"/>
<path d="M6.8 16.1 L13.3 19.2 L8.7 31.8 L8.9 42.3 L4.8 43.1 L3.1 32.7 Q4 22 6.8 16.1 Z" fill="#d4d4d6"/>
<path d="M1.15 3.07 Q2 1.4 5.5 0.9 L19.4 2.2 Q28.6 4 29.9 7 Q31 11.6 29 15.3 L14.2 19.2 Q8 18 2.9 11.8 Q0.6 7 1.15 3.07 Z" fill="#17171a"/>
<path d="M6.4 5.2 L10.7 3.1 L13.3 3.9 L8.5 10 Z" fill="#b9b9bc"/>
<path d="M13 5 L27 8 L26.4 13 L14 15.6 Z" fill="#242428"/>
</g>
<g transform="translate(297,1495)"><rect x="0" y="0" width="70.5" height="47.6" fill="#0b0b0c"/><rect x="4.6" y="5.6" width="60" height="36" fill="#d6e8f4"/>
<circle cx="24.6" cy="18" r="1.9" fill="#2d4fa8"/><circle cx="28.8" cy="18" r="1.9" fill="#2d4fa8"/><circle cx="26.7" cy="21.4" r="1.9" fill="#2d4fa8"/><rect x="22" y="25.2" width="9.4" height="1.4" fill="#5570b8"/>
<rect x="34.6" y="13.2" width="12.6" height="12.6" fill="#9a8f88"/><rect x="36.6" y="15.2" width="3" height="3" fill="#fff"/><rect x="42" y="20.4" width="3" height="3" fill="#fff"/><rect x="21" y="9.8" width="26" height="1.2" fill="#6f8fd0"/>
<rect x="44" y="33.6" width="18" height="4" fill="#c1d3df"/></g>
<g transform="translate(388.75,1493.75)"><rect x="0" y="0" width="71.2" height="44.4" fill="#f7f8fa"/><rect x="0" y="0" width="71.2" height="3.6" fill="#2447b8"/><rect x="0" y="3.6" width="71.2" height="3.6" fill="#3d8fe8"/><rect x="48" y="4" width="17" height="2.8" fill="#6ec06a"/><rect x="64" y="4" width="4" height="2.8" fill="#fff"/>
<g fill="#5a6272"><rect x="3" y="8.6" width="4" height="1.1"/><rect x="13" y="8.6" width="5" height="1.1"/><rect x="27" y="8.6" width="6" height="1.1"/><rect x="40" y="8.6" width="4" height="1.1"/><rect x="52" y="8.6" width="4" height="1.1"/><rect x="63" y="8.6" width="4" height="1.1"/></g>
<g fill="#3f7fe0"><rect x="2.4" y="11.6" width="4.6" height="1.6"/><rect x="2.4" y="15" width="4.6" height="1.6"/></g><g fill="#58b860"><rect x="2.4" y="18.4" width="4.6" height="1.6"/><rect x="2.4" y="21.8" width="4.6" height="1.6"/><rect x="2.4" y="25.2" width="4.6" height="1.6"/></g>
<g fill="#8a909c"><rect x="12" y="11.8" width="7" height="1"/><rect x="12" y="15.2" width="7" height="1"/><rect x="12" y="18.6" width="7" height="1"/><rect x="12" y="22" width="7" height="1"/><rect x="12" y="25.4" width="7" height="1"/><rect x="27" y="11.8" width="6" height="1"/><rect x="27" y="15.2" width="6" height="1"/><rect x="27" y="18.6" width="6" height="1"/><rect x="27" y="22" width="6" height="1"/><rect x="27" y="25.4" width="6" height="1"/></g>
<rect x="0" y="29.4" width="71.2" height="15" fill="#eef0f4"/><g fill="#7b8190"><rect x="6" y="31.4" width="9" height="1.2"/><rect x="26" y="31.4" width="9" height="1.2"/><rect x="52" y="31.4" width="9" height="1.2"/><rect x="7" y="35.4" width="7" height="1"/><rect x="27" y="35.4" width="7" height="1"/><rect x="7" y="39.4" width="7" height="1"/><rect x="27" y="39.4" width="7" height="1"/><rect x="44" y="35.4" width="4" height="1"/><rect x="53" y="35.4" width="4" height="1"/></g><g fill="#e24a4a"><rect x="65" y="34.6" width="3" height="1.2"/><rect x="65" y="38.6" width="3" height="1.2"/><rect x="65" y="42" width="3" height="1.2"/></g></g>
<g transform="translate(487,1500.5)"><rect x="0" y="0" width="114" height="34.4" fill="#0a0a0a"/>
<path d="M1.6 2.4 H113 M1.6 32 H113" stroke="#f2f2f2" stroke-width="1.5" stroke-dasharray="2 1.3"/>
<rect x="1.4" y="5.8" width="21.6" height="23" fill="#cfd6d6"/><rect x="24" y="5.8" width="21.3" height="23" fill="#55656c"/><rect x="46.2" y="5.8" width="21.8" height="23" fill="#86622f"/><rect x="69.2" y="5.8" width="22.2" height="23" fill="#8b8f8d"/><rect x="92" y="5.8" width="21.2" height="23" fill="#7c8781"/>
<rect x="3" y="12" width="4" height="14" fill="#5b86a8"/><rect x="17" y="9" width="4.4" height="16" fill="#7f9cb4"/><rect x="27" y="22" width="10" height="5" fill="#4aa7a3"/><rect x="50" y="10" width="8" height="8" fill="#c9a35a"/><rect x="60" y="14" width="5" height="12" fill="#5a3b1c"/><rect x="74" y="9" width="6" height="17" fill="#c4c8c6"/><rect x="98" y="8" width="5" height="19" fill="#b4bdb8"/><rect x="8" y="7" width="8" height="20" fill="#eef2f2"/><rect x="30" y="8" width="12" height="10" fill="#2f3b44"/></g>
<g transform="translate(620,1488)" fill="none" stroke-linecap="round" stroke-linejoin="round">
<path d="M17.6 45.4 L30.4 45.4 L31 51.4 L16.8 51.4 Z" fill="#2b2d33" stroke="#2b2d33" stroke-width="1"/>
<path d="M16.6 42 Q15 35 19 31.4 Q25 28.6 30.4 31.6 Q33.6 36 31 43.4 Q24 46.4 16.6 42 Z" fill="#f0b31e" stroke="#d99a12" stroke-width="0.8"/>
<path d="M24 34 L32.6 9.4" stroke="#eeb01c" stroke-width="5"/>
<path d="M21 31 L28 10" stroke="#e2a414" stroke-width="1.6"/>
<path d="M33 8.4 L5.4 3" stroke="#eeb01c" stroke-width="3.8"/>
<path d="M30 12 L12 7.6" stroke="#e2a414" stroke-width="1.4"/>
<path d="M4.6 2.4 L1.6 5 L2.2 12 M6.4 5.4 L6 11" stroke="#eeb01c" stroke-width="2.4"/>
<circle cx="32.6" cy="9" r="3" fill="#f3bb2a" stroke="#d99a12" stroke-width="0.8"/>
<path d="M22.6 8.4 L24 14.4" stroke="#9a9a9a" stroke-width="1"/>
</g>
<g transform="translate(683.4,1492.3)"><rect x="0" y="0" width="61.4" height="45.4" fill="#b98a5e"/><rect x="0" y="0" width="61.4" height="9" fill="#c9c2b2"/><rect x="55" y="6" width="6.4" height="32" fill="#c9502c"/>
<path d="M10 9.6 L47 9.6 L58 24 L2 24 Z" fill="#f2f2f0"/><path d="M14 4.6 L42 4.6 L46 14.6 L11 14.6 Z" fill="#d9c79a"/><path d="M17 6.4 L40 6.4 L42.6 12.8 L14.6 12.8 Z" fill="#e9e2cc"/>
<rect x="2" y="24" width="56" height="9.6" fill="#1f5cc2"/><rect x="12" y="26.6" width="13" height="3" fill="#1a2230"/><rect x="43" y="27.2" width="11" height="2.4" fill="#e7c62c"/>
<path d="M4 33.6 H8.6 L8 44 H5.4 Z M52 33.6 H56.6 L55.6 44 H53 Z M18 33.6 H21 V40 H18 Z" fill="#1d52b0"/><path d="M12 34 Q22 44 32 34 Z" fill="#2a2320"/></g>
<g transform="translate(776.2,1494)"><rect x="0" y="0" width="75.8" height="46.6" fill="#d9d5d1"/>
<path d="M6 10 Q28 0 52 3 L66 10 Q72 16 70 30 L54 42 Q40 46 28 41 L4 28 Q2 18 6 10 Z" fill="#141414"/>
<path d="M5 13 L26 22 L27 31 L5 22 Z" fill="#e6772a"/><path d="M38 26 L52 22 L51 36 L40 38 Z" fill="#e6772a"/><path d="M27 31 L52 38 L68 27 L68 30 L52 41 L27 34 Z" fill="#e6772a"/>
<path d="M10 9 Q30 2 50 5 L62 11 Q46 19 30 18 Z" fill="#1f1f1f"/><circle cx="36" cy="9.4" r="1.8" fill="#050505"/><ellipse cx="21" cy="25.6" rx="2" ry="3" fill="#0a0a0a"/><circle cx="50" cy="29.6" r="1.2" fill="#d22"/></g>
<g transform="translate(880,1499.25)"><path d="M0.6 4.4 L68 0.4 Q72.6 0.6 72.6 4 L72.6 14 Q72.6 17 69 17.6 L46 19.4 L42 27.6 L4 29.4 Q0.6 29 0.6 26 Z" fill="#e9e9eb" stroke="#bcbcc0" stroke-width="0.6"/>
<path d="M0.6 4.4 L68 0.4 L70 2.6 L3.6 7 Z" fill="#f6f6f7"/><path d="M0.6 4.4 L3.6 7 L3.6 29 Q0.6 28.6 0.6 26 Z" fill="#c9c9cd"/>
<rect x="21.6" y="10" width="12.6" height="13" fill="#d3d3d7" stroke="#a9a9ae" stroke-width="0.6"/><rect x="24" y="12" width="7.6" height="9" fill="#f2f2f4"/><rect x="50" y="8.6" width="7" height="8" fill="#a9a9ae"/><rect x="58" y="8.4" width="11" height="1" fill="#8f8f94"/><rect x="58" y="11" width="11" height="1" fill="#8f8f94"/>
<ellipse cx="8" cy="5.4" rx="3" ry="1" fill="#b5b5ba"/><ellipse cx="44" cy="3.2" rx="3" ry="1" fill="#b5b5ba"/><ellipse cx="61" cy="2.2" rx="3" ry="1" fill="#b5b5ba"/></g>
<g><defs><radialGradient id="gPh" cx="0.5" cy="0.47" r="0.62"><stop offset="0" stop-color="#4b9fe6"/><stop offset="0.22" stop-color="#2d6ea8"/><stop offset="0.55" stop-color="#22425f"/><stop offset="1" stop-color="#1b2731"/></radialGradient></defs>
<g transform="translate(1030.8,1478.4)"><path d="M2 8.6 Q2.4 5.2 6 4 L26 0.2 Q30.4 0 31.2 3.4 L31.9 58 Q31.8 63.6 27 64.6 Q16 66.4 5.6 64.8 Q0.4 63.8 0.2 58 Z" fill="#252527"/>
<path d="M3 9.4 Q3 7.4 5 7 L26 4.2 Q28.2 4 28.2 6 L28.2 55.6 Q28.2 57.6 26 57.6 L4.2 57.6 Q2.2 57.6 2.2 55.6 Z" fill="url(#gPh)"/>
<rect x="29" y="11" width="2.2" height="7.6" fill="#e3ab1d"/><rect x="9" y="17.6" width="12" height="1.3" fill="#a9cdec" opacity="0.8"/><rect x="10" y="55" width="8" height="1" fill="#8fa3b4" opacity="0.7"/></g>
<g transform="translate(1075.6,1465.2)"><path d="M0.4 4 Q0.6 0.4 4.4 0.4 L8 0.2 L26 5 Q30.4 6.6 30.6 11 L31.8 70 Q31.6 77 26 78 Q16 79.4 6.6 78 Q1.2 77 1 70 Z" fill="#252527"/>
<path d="M3.6 8.4 Q3.6 6.6 5.6 6.8 L25.6 9 Q27.8 9.4 27.8 11.4 L27.8 54.6 Q27.8 56.4 25.6 56.4 L5.4 56.4 Q3.2 56.4 3.2 54.6 Z" fill="url(#gPh)"/>
<rect x="0.2" y="9.6" width="2.4" height="8.2" fill="#e3ab1d"/><rect x="10.6" y="17" width="12.6" height="1.4" fill="#a9cdec" opacity="0.8"/><rect x="13" y="53" width="8" height="1" fill="#8fa3b4" opacity="0.7"/>
<rect x="14.6" y="57.6" width="6.2" height="3.2" rx="0.8" fill="#e3b51e"/>
<path d="M6 63.6 H27 M6.4 67.6 H26.6 M6.8 71.6 H26.2 M7.4 75.2 H25.6" stroke="#45474d" stroke-width="2.1" stroke-dasharray="4 1.6"/></g></g>
<g transform="translate(1025.5,1358.75)"><defs><linearGradient id="gAp" x1="0" y1="0" x2="1" y2="0"><stop offset="0" stop-color="#ffffff"/><stop offset="0.55" stop-color="#ececec"/><stop offset="1" stop-color="#cfcfcf"/></linearGradient></defs>
<path d="M4.4 19.4 Q4.6 17.6 7.9 17.6 Q11.4 17.6 11.6 19.4 L15.2 44 Q15.6 48.6 7.9 48.8 Q0.2 48.6 0.6 44 Z" fill="url(#gAp)" stroke="#3f3f42" stroke-width="0.8"/><ellipse cx="7.9" cy="19.6" rx="3.4" ry="1.3" fill="#fafafa" stroke="#8a8a8d" stroke-width="0.4"/>
<path d="M7.9 3.2 V18.2" stroke="#2f2f32" stroke-width="0.8"/><circle cx="7.9" cy="1.4" r="1.9" fill="#fff" stroke="#4a4a4d" stroke-width="0.7"/>
<path d="M3.6 -2.6 Q1.6 1.4 3.6 5.6 M0.6 -5 Q-3 1.4 0.6 8 M12.2 -2.6 Q14.2 1.4 12.2 5.6 M15.2 -5 Q18.8 1.4 15.2 8" fill="none" stroke="#77777b" stroke-width="0.7"/></g>
<g transform="translate(1099.4,1358.75)"><defs><linearGradient id="gAp" x1="0" y1="0" x2="1" y2="0"><stop offset="0" stop-color="#ffffff"/><stop offset="0.55" stop-color="#ececec"/><stop offset="1" stop-color="#cfcfcf"/></linearGradient></defs>
<path d="M4.4 19.4 Q4.6 17.6 7.9 17.6 Q11.4 17.6 11.6 19.4 L15.2 44 Q15.6 48.6 7.9 48.8 Q0.2 48.6 0.6 44 Z" fill="url(#gAp)" stroke="#3f3f42" stroke-width="0.8"/><ellipse cx="7.9" cy="19.6" rx="3.4" ry="1.3" fill="#fafafa" stroke="#8a8a8d" stroke-width="0.4"/>
<path d="M7.9 3.2 V18.2" stroke="#2f2f32" stroke-width="0.8"/><circle cx="7.9" cy="1.4" r="1.9" fill="#fff" stroke="#4a4a4d" stroke-width="0.7"/>
<path d="M3.6 -2.6 Q1.6 1.4 3.6 5.6 M0.6 -5 Q-3 1.4 0.6 8 M12.2 -2.6 Q14.2 1.4 12.2 5.6 M15.2 -5 Q18.8 1.4 15.2 8" fill="none" stroke="#77777b" stroke-width="0.7"/></g>
<path d="M1031.4 1364 L1082.7 1348.4 L1075.3 1364.6 L1111.1 1358.3 L1059.7 1373.2 L1067.5 1358 Z" fill="#f0e832" stroke="#1f4f9a" stroke-width="1.3" stroke-linejoin="miter"/>
<g transform="translate(91.5,863)"><path d="M3 8.6 L27 5.6 L52 8 L52 34 L3 37 Z" fill="#f2f3f5"/><path d="M3 8.6 L27 5.6 L27 36 L3 37 Z" fill="#e6e8ec"/>
<rect x="5.4" y="14" width="5" height="13" fill="#9aa0a8"/><rect x="13.6" y="14.6" width="8" height="10" fill="#aeb3ba"/><rect x="44" y="14" width="3" height="17" fill="#4b4f55"/>
<path d="M52 10 L67 9.4 L69 12 L69 36 L52 38 Z" fill="#141416"/><path d="M1.4 33.4 L52 31 L69 35 L69 39.6 L30 43.6 L1.4 40 Z" fill="#0c0c0d"/><rect x="32.4" y="0" width="1.4" height="6" fill="#d24a2a"/><rect x="25" y="7.6" width="6" height="1.8" fill="#5b6068"/></g>
<g transform="translate(173,868.4)"><rect x="17" y="5.8" width="12.6" height="10" fill="#c9955c"/><rect x="30.6" y="0.6" width="19" height="14.6" fill="#c9955c"/><rect x="21" y="9.6" width="5.4" height="3.4" fill="#f4efe6"/><rect x="36" y="7.6" width="9" height="4.6" fill="#f4efe6"/><rect x="37" y="9" width="7" height="1.4" fill="#222"/>
<rect x="0.4" y="12.6" width="52.6" height="11.4" rx="5" fill="#3c4048"/><circle cx="8" cy="18.6" r="4.4" fill="#70757d"/><circle cx="26" cy="18.6" r="4.4" fill="#70757d"/><circle cx="44" cy="18.6" r="4.4" fill="#70757d"/><rect x="12" y="14.6" width="4" height="2" fill="#dff"/><rect x="32" y="14.6" width="4" height="2" fill="#dff"/>
<rect x="0.4" y="23.6" width="52.6" height="3" fill="#5bb8b4"/><rect x="0.4" y="30.6" width="52.6" height="2.8" fill="#5bb8b4"/><rect x="15.6" y="24" width="2.8" height="9" fill="#5bb8b4"/><rect x="35.6" y="24" width="2.8" height="9" fill="#5bb8b4"/>
<g fill="#9aa0a6"><rect x="2" y="26.6" width="12" height="4"/><rect x="20" y="26.6" width="14" height="4"/><rect x="40" y="26.6" width="12" height="4"/></g></g>
<g transform="translate(244,868.4)" fill="none" stroke="#2a1f1c" stroke-linecap="round" stroke-linejoin="round">
<path d="M3 2 Q6.4 -0.6 10 1.4 L11.6 4" stroke-width="1.6"/><path d="M4.6 4.6 L9.4 6.8" stroke-width="3.2"/>
<path d="M8.6 8 L3 17.6" stroke-width="3.4"/><path d="M2.4 19.4 L1 23 L3 21.6 L5.6 24.4" stroke-width="1.4"/>
<path d="M9 7.6 L17 14.4" stroke-width="3.6"/><circle cx="18" cy="15" r="3.2" fill="#2a1f1c" stroke="none"/>
<path d="M18 15 L27 15.4 Q30 16 29 19" stroke-width="4.2"/><path d="M20 20.4 H27 V26 H20 Z" fill="#2a1f1c" stroke-width="1"/>
<path d="M12.6 28.4 H28.6" stroke-width="2.4"/><path d="M29 18 Q33.6 20 32.6 27" stroke-width="1.3"/></g>
<g transform="translate(334,863.8)"><rect x="5.4" y="0.4" width="28.4" height="19" rx="1.6" fill="#d4d4d6" stroke="#a9a9ac" stroke-width="0.6"/><rect x="9" y="3" width="21" height="14.6" fill="#f2f2f3"/><rect x="9.4" y="4" width="20.4" height="13" fill="#0d0b0b"/><rect x="9.4" y="4" width="20.4" height="4.6" fill="#2a2a2c"/>
<path d="M4 21.4 L34 21.4 L37.6 31 Q38 35.6 34.6 35.8 L3.4 35.8 Q0.4 35.4 0.8 31 Z" fill="#e2e2e4" stroke="#aaaaad" stroke-width="0.6"/><path d="M6.4 23 L31.6 23 L32.6 27.6 L5.6 27.6 Z" fill="#b12328"/><path d="M9 24.6 H29" stroke="#f4f4f4" stroke-width="1.4" stroke-dasharray="3 1.2"/><path d="M4 30 H35" stroke="#fafafa" stroke-width="1.6"/>
<path d="M38 30.6 H43" stroke="#b9b9bc" stroke-width="1.6"/>
<path d="M44.6 17 L60 17 L64 26 L64 35 L42.6 35 L42.6 26 Z" fill="#d9d9db" stroke="#a6a6a9" stroke-width="0.6"/><rect x="42.6" y="26" width="21.4" height="9" fill="#c6c6c9"/><ellipse cx="53" cy="31" rx="4" ry="3.2" fill="#1b1b1d"/></g>
<g transform="translate(427,870)"><rect x="1.6" y="0.6" width="37.6" height="28" rx="4" fill="#c9c9cb" stroke="#9d9da0" stroke-width="0.7"/><path d="M0.6 5 V24 M40.2 5 V24" stroke="#a6a6a9" stroke-width="1.2" stroke-dasharray="1.6 1.4"/><rect x="6.6" y="4.6" width="27.6" height="20" rx="1.6" fill="#f6f6f7" stroke="#8a8a8d" stroke-width="0.8"/>
<path d="M8 14.6 H14 L15.6 12 L17 16.6 L18.6 9.6 L20.4 20.4 L22 7 L23.6 17.6 L25 13 L26.4 14.6 H33" fill="none" stroke="#4b4b4e" stroke-width="0.8"/><path d="M8 14.6 H33" stroke="#bdbdc0" stroke-width="0.4"/></g>
<g transform="translate(497,868.4)"><circle cx="17.8" cy="16.2" r="16.2" fill="#c4c4c8"/><circle cx="17.8" cy="16.2" r="15" fill="#2c2c31"/><circle cx="17.8" cy="16.2" r="12.4" fill="#47474e"/><circle cx="17.8" cy="16.2" r="12.4" fill="none" stroke="#8d8d94" stroke-width="1.8" stroke-dasharray="0.7 1.5"/><circle cx="17.8" cy="16.6" r="4" fill="#222226"/><path d="M17.8 16.6 L27.6 14.4" stroke="#d33" stroke-width="1"/><rect x="14.4" y="24" width="7.4" height="3" fill="#9a2323"/><circle cx="17.8" cy="16.6" r="1.6" fill="#b8b8bc"/></g>
<g transform="translate(581,870)"><rect x="0" y="0" width="54.3" height="33" fill="#d6c8b2"/><rect x="9.4" y="1.8" width="32" height="13" fill="#3b372f"/><g fill="#cfc3ae"><rect x="11" y="3.4" width="5" height="4"/><rect x="18" y="3.4" width="4" height="9"/><rect x="24" y="5" width="7" height="3"/><rect x="33" y="3.4" width="6" height="5"/><rect x="12" y="9.4" width="4" height="3.6"/><rect x="26" y="9.6" width="9" height="3"/></g>
<rect x="42.6" y="2" width="5" height="1.6" fill="#7d735f"/><rect x="42.6" y="12.6" width="5" height="1.6" fill="#7d735f"/><path d="M0 16.8 H54.3" stroke="#a89c86" stroke-width="0.8"/>
<path d="M2 24 L52 24 L54 28.6 L0 28.6 Z" fill="#c2b49c"/><rect x="1" y="28.6" width="52" height="4.4" fill="#cbbea8"/>
<g fill="#4a443a"><rect x="7" y="21.6" width="5" height="2.4"/><rect x="15" y="21.6" width="5" height="2.4"/><rect x="23" y="21.6" width="5" height="2.4"/><rect x="30.6" y="20" width="2.6" height="3.6"/><rect x="35.4" y="20" width="2.6" height="3.6"/><rect x="40.2" y="20" width="2.6" height="3.6"/><rect x="45" y="20" width="2.6" height="3.6"/></g></g>
<g transform="translate(657.5,867.3)"><path d="M1 8.6 L31 0.6 L42 5 L42 26 L13 35.6 L1 29 Z" fill="#a9a9ab"/><path d="M1 8.6 L13 13.4 L13 35.6 L1 29 Z" fill="#8d8d90"/><path d="M13 13.4 L42 5 L42 26 L13 35.6 Z" fill="#bcbcbe"/>
<path d="M13 20.6 L42 12 M13 27.6 L42 19 M20 11.4 V33.4 M28 9 V31 M35 7 V28.6 M1 15.6 L13 20.6 M1 22.4 L13 27.6" stroke="#6f6f73" stroke-width="0.9" fill="none"/>
<g fill="#d4d4d6"><rect x="14.4" y="15.4" width="4.6" height="4"/><rect x="21.4" y="13.4" width="5.4" height="4"/><rect x="29.4" y="11" width="4.6" height="4"/><rect x="14.4" y="22.4" width="4.6" height="4"/><rect x="21.4" y="20.4" width="5.4" height="4"/></g>
<path d="M26 17 H31 V27 L36 30 V34.6 H25 V28 Z" fill="#1b1b1d"/><path d="M36 31.6 L46 27.6 M37 34.6 L47 30.4" stroke="#4a4a4d" stroke-width="1.2"/><path d="M45 21.6 L52 20 L54 26 L48 29 L44.6 27 Z" fill="#19191b"/><circle cx="27.6" cy="35.4" r="1.8" fill="#111"/><circle cx="34" cy="36" r="1.8" fill="#111"/><circle cx="50" cy="28.6" r="1.6" fill="#111"/></g>
<g transform="translate(730,870)" fill="#8ba7d8"><ellipse cx="14" cy="12.6" rx="12" ry="8"/><ellipse cx="27" cy="8.6" rx="12" ry="8"/><ellipse cx="41" cy="9" rx="12" ry="8.6"/><ellipse cx="46" cy="15.6" rx="10" ry="7.6"/><ellipse cx="38" cy="20.4" rx="13" ry="7"/><ellipse cx="22" cy="20.8" rx="13" ry="7"/><ellipse cx="8.6" cy="16.6" rx="8.4" ry="6"/><ellipse cx="28" cy="14" rx="20" ry="10"/></g>
<g transform="translate(843,871.8)"><path d="M0.6 5.6 L17 0.6 L47 5.4 L47 21.6 L30 30.4 L0.6 21.6 Z" fill="#7d7d80"/><path d="M0.6 5.6 L17 0.6 L47 5.4 L30 11.6 Z" fill="#9a9a9d"/><path d="M3.6 5.8 L17.4 2 L43 5.8 L29.6 10 Z" fill="#66666a"/><path d="M0.6 5.6 L30 11.6 L30 30.4 L0.6 21.6 Z" fill="#858588"/><path d="M30 11.6 L47 5.4 L47 21.6 L30 30.4 Z" fill="#6f6f73"/><path d="M0.6 13 L30 19.6 L47 12.6" fill="none" stroke="#5f5f63" stroke-width="0.7"/><path d="M33 24 L44 18.6 V22 L33 27.6 Z" fill="#8f8f93"/></g>
<g transform="translate(922.8,871.8)"><path d="M1 9 L10 3.6 L44 3.6 L49 8.6 L49 18 L42 28 L8 22 L1 18.6 Z" fill="#e2e4e9" stroke="#c2c5cc" stroke-width="0.6"/><path d="M1 9 L10 3.6 L44 3.6 L49 8.6 L40 13 L8 12.6 Z" fill="#f0f2f5"/><path d="M12 5.6 L40 5.6 L43 8.6 L36 11.4 L12 11 L8.6 8.4 Z" fill="#d3d6dc"/><path d="M17 0 V5 M31 0.6 V5 M4 4 V9 M46 2.6 V8" stroke="#c9ccd3" stroke-width="1.4"/><path d="M8 12.6 L40 13 L42 28 L8 22 Z" fill="#e9ebef"/><path d="M40 13 L49 8.6 L49 18 L42 28 Z" fill="#d6d9df"/><path d="M42 18 L50 16 M43 22 L48 21" stroke="#c04a4a" stroke-width="0.8"/><path d="M12 17.6 H22" stroke="#b9c6e0" stroke-width="0.7"/></g>
<g transform="translate(1031.2,870)"><rect x="0.4" y="1" width="36.2" height="27.6" rx="1" fill="#e2a878"/><rect x="0.4" y="1" width="36.2" height="9.4" fill="#e9b88c"/><rect x="15.4" y="0.6" width="6.2" height="10" fill="#c4b26a"/><rect x="12.6" y="9" width="11.6" height="1.2" fill="#5b4a36"/><rect x="10.6" y="12.6" width="15.4" height="7" fill="#f6f3ee"/><rect x="12" y="14" width="11" height="1.1" fill="#333"/><rect x="12" y="16.2" width="8" height="1.1" fill="#333"/><rect x="1" y="21.6" width="10" height="6" fill="#3a2a20"/><rect x="2.4" y="22.6" width="3" height="3.6" fill="#e2a878"/><rect x="6.4" y="22.6" width="3" height="3.6" fill="#e2a878"/>
<rect x="14.4" y="14" width="36" height="17.4" fill="#fdfdfd" opacity="0.55"/><path d="M15.2 14 V31.4 M17.4 14 V31.4 M19 14 V31.4 M21.6 14 V31.4 M23.4 14 V31.4 M26.6 14 V31.4 M28.6 14 V31.4 M31.6 14 V31.4 M33.4 14 V31.4 M36.4 14 V31.4 M38.6 14 V31.4 M41.4 14 V31.4 M43.6 14 V31.4 M46 14 V31.4 M48.8 14 V31.4" stroke="#151515" stroke-width="1.3"/><path d="M18.2 14 V31.4 M30.2 14 V31.4 M40 14 V31.4" stroke="#151515" stroke-width="2.2"/><path d="M14 24.4 H50.4" stroke="#e23a3a" stroke-width="0.9"/></g>
<g transform="translate(1104.4,871)"><g transform="translate(8,0)"><path d="M1.6 20 Q1 12.6 9 12 Q17 12.6 16.4 20 L16 24 H2 Z" fill="#f0922a"/><path d="M4.6 14.6 H13.4 V24 H4.6 Z" fill="#3f78c4"/><path d="M5.6 12.6 L6.6 17 M12.4 12.6 L11.4 17" stroke="#2f62a8" stroke-width="1.3"/><circle cx="9" cy="8" r="4.2" fill="#f6c9a0"/><path d="M3.8 6.6 Q4 1 9 0.8 Q14 1 14.2 6.6 Z" fill="#f39a1e"/><rect x="3" y="6.2" width="12" height="1.3" rx="0.6" fill="#e2850f"/><path d="M2 22 L6 24.6 M16 22 L12 24.6" stroke="#f6c9a0" stroke-width="2.2" stroke-linecap="round"/></g><g transform="translate(26.6,0)"><path d="M1.6 20 Q1 12.6 9 12 Q17 12.6 16.4 20 L16 24 H2 Z" fill="#f0922a"/><path d="M4.6 14.6 H13.4 V24 H4.6 Z" fill="#3f78c4"/><path d="M5.6 12.6 L6.6 17 M12.4 12.6 L11.4 17" stroke="#2f62a8" stroke-width="1.3"/><circle cx="9" cy="8" r="4.2" fill="#f6c9a0"/><path d="M3.8 6.6 Q4 1 9 0.8 Q14 1 14.2 6.6 Z" fill="#f39a1e"/><rect x="3" y="6.2" width="12" height="1.3" rx="0.6" fill="#e2850f"/><path d="M2 22 L6 24.6 M16 22 L12 24.6" stroke="#f6c9a0" stroke-width="2.2" stroke-linecap="round"/></g><path d="M2.6 23.6 H50 L52.2 26.4 V30.6 H0.4 V26.4 Z" fill="#3a3a3e"/><path d="M2 28 H51" stroke="#1c1c1f" stroke-width="2" stroke-dasharray="2.6 1.8"/></g>
<g transform="translate(1340.75,475.5)"><rect x="0" y="0.00" width="88.75" height="7.45" fill="#4b7ab6"/><rect x="0" y="7.40" width="88.75" height="7.75" fill="#cfd5e8"/><rect x="0" y="15.10" width="88.75" height="7.75" fill="#e9edf5"/><rect x="0" y="22.80" width="88.75" height="7.75" fill="#cfd5e8"/><rect x="0" y="30.50" width="88.75" height="7.75" fill="#e9edf5"/><rect x="0" y="38.20" width="88.75" height="7.75" fill="#cfd5e8"/><rect x="0" y="45.90" width="88.75" height="7.75" fill="#e9edf5"/><rect x="0" y="53.60" width="88.75" height="7.75" fill="#cfd5e8"/><rect x="16.95" y="0" width="0.6" height="61.30" fill="#f4f6fa" opacity="0.8"/><rect x="26.45" y="0" width="0.6" height="61.30" fill="#f4f6fa" opacity="0.8"/><rect x="35.2" y="0" width="0.6" height="61.30" fill="#f4f6fa" opacity="0.8"/><rect x="44.45" y="0" width="0.6" height="61.30" fill="#f4f6fa" opacity="0.8"/><rect x="53.45" y="0" width="0.6" height="61.30" fill="#f4f6fa" opacity="0.8"/><rect x="62.2" y="0" width="0.6" height="61.30" fill="#f4f6fa" opacity="0.8"/><rect x="71.45" y="0" width="0.6" height="61.30" fill="#f4f6fa" opacity="0.8"/></g>
<g transform="translate(1463,475.5)"><rect x="0" y="0.00" width="88.75" height="7.45" fill="#4b7ab6"/><rect x="0" y="7.40" width="88.75" height="7.75" fill="#cfd5e8"/><rect x="0" y="15.10" width="88.75" height="7.75" fill="#e9edf5"/><rect x="0" y="22.80" width="88.75" height="7.75" fill="#cfd5e8"/><rect x="0" y="30.50" width="88.75" height="7.75" fill="#e9edf5"/><rect x="0" y="38.20" width="88.75" height="7.75" fill="#cfd5e8"/><rect x="0" y="45.90" width="88.75" height="7.75" fill="#e9edf5"/><rect x="0" y="53.60" width="88.75" height="7.75" fill="#cfd5e8"/><rect x="16.95" y="0" width="0.6" height="61.30" fill="#f4f6fa" opacity="0.8"/><rect x="26.45" y="0" width="0.6" height="61.30" fill="#f4f6fa" opacity="0.8"/><rect x="35.2" y="0" width="0.6" height="61.30" fill="#f4f6fa" opacity="0.8"/><rect x="44.45" y="0" width="0.6" height="61.30" fill="#f4f6fa" opacity="0.8"/><rect x="53.45" y="0" width="0.6" height="61.30" fill="#f4f6fa" opacity="0.8"/><rect x="62.2" y="0" width="0.6" height="61.30" fill="#f4f6fa" opacity="0.8"/><rect x="71.45" y="0" width="0.6" height="61.30" fill="#f4f6fa" opacity="0.8"/></g>
<g transform="translate(2137,464.4)"><rect x="0" y="0" width="119.5" height="65" fill="#fff" stroke="#e2e2e4" stroke-width="0.8"/><rect x="3.9" y="3.8" width="112" height="57.2" fill="#050505"/><rect x="3.9" y="3.8" width="112" height="6.3" fill="#1c2034"/><rect x="3.9" y="10.1" width="112" height="6.2" fill="#1379aa"/><rect x="3.9" y="16.30" width="112" height="5.59" fill="#3b4053"/><rect x="3.9" y="27.48" width="112" height="5.59" fill="#3b4053"/><rect x="3.9" y="38.66" width="112" height="5.59" fill="#3b4053"/><rect x="3.9" y="49.84" width="112" height="5.59" fill="#3b4053"/><rect x="11.5" y="12.60" width="4" height="1.2" fill="#e8f2f8" opacity="0.85"/><rect x="20.9" y="12.60" width="7" height="1.2" fill="#e8f2f8" opacity="0.85"/><rect x="46.9" y="12.60" width="13" height="1.2" fill="#e8f2f8" opacity="0.85"/><rect x="76.9" y="12.60" width="3" height="1.2" fill="#e8f2f8" opacity="0.85"/><rect x="88.9" y="12.60" width="2.4" height="1.2" fill="#e8f2f8" opacity="0.85"/><rect x="99.9" y="12.60" width="2.4" height="1.2" fill="#e8f2f8" opacity="0.85"/><rect x="109.5" y="12.60" width="4" height="1.2" fill="#e8f2f8" opacity="0.85"/><rect x="11.5" y="17.99" width="4" height="1.2" fill="#e8f2f8" opacity="0.85"/><rect x="20.9" y="17.99" width="7" height="1.2" fill="#e8f2f8" opacity="0.85"/><rect x="46.9" y="17.99" width="13" height="1.2" fill="#e8f2f8" opacity="0.85"/><rect x="76.9" y="17.99" width="3" height="1.2" fill="#e8f2f8" opacity="0.85"/><rect x="88.9" y="17.99" width="2.4" height="1.2" fill="#e8f2f8" opacity="0.85"/><rect x="99.9" y="17.99" width="2.4" height="1.2" fill="#e8f2f8" opacity="0.85"/><rect x="109.5" y="17.99" width="4" height="1.2" fill="#e8f2f8" opacity="0.85"/><rect x="11.5" y="23.58" width="4" height="1.2" fill="#e8f2f8" opacity="0.85"/><rect x="20.9" y="23.58" width="7" height="1.2" fill="#e8f2f8" opacity="0.85"/><rect x="46.9" y="23.58" width="13" height="1.2" fill="#e8f2f8" opacity="0.85"/><rect x="76.9" y="23.58" width="3" height="1.2" fill="#e8f2f8" opacity="0.85"/><rect x="88.9" y="23.58" width="2.4" height="1.2" fill="#e8f2f8" opacity="0.85"/><rect x="99.9" y="23.58" width="2.4" height="1.2" fill="#e8f2f8" opacity="0.85"/><rect x="109.5" y="23.58" width="4" height="1.2" fill="#e8f2f8" opacity="0.85"/><rect x="11.5" y="29.17" width="4" height="1.2" fill="#e8f2f8" opacity="0.85"/><rect x="20.9" y="29.17" width="7" height="1.2" fill="#e8f2f8" opacity="0.85"/><rect x="46.9" y="29.17" width="13" height="1.2" fill="#e8f2f8" opacity="0.85"/><rect x="76.9" y="29.17" width="3" height="1.2" fill="#e8f2f8" opacity="0.85"/><rect x="88.9" y="29.17" width="2.4" height="1.2" fill="#e8f2f8" opacity="0.85"/><rect x="99.9" y="29.17" width="2.4" height="1.2" fill="#e8f2f8" opacity="0.85"/><rect x="109.5" y="29.17" width="4" height="1.2" fill="#e8f2f8" opacity="0.85"/><rect x="11.5" y="34.76" width="4" height="1.2" fill="#e8f2f8" opacity="0.85"/><rect x="20.9" y="34.76" width="7" height="1.2" fill="#e8f2f8" opacity="0.85"/><rect x="46.9" y="34.76" width="13" height="1.2" fill="#e8f2f8" opacity="0.85"/><rect x="76.9" y="34.76" width="3" height="1.2" fill="#e8f2f8" opacity="0.85"/><rect x="88.9" y="34.76" width="2.4" height="1.2" fill="#e8f2f8" opacity="0.85"/><rect x="99.9" y="34.76" width="2.4" height="1.2" fill="#e8f2f8" opacity="0.85"/><rect x="109.5" y="34.76" width="4" height="1.2" fill="#e8f2f8" opacity="0.85"/><rect x="11.5" y="40.35" width="4" height="1.2" fill="#e8f2f8" opacity="0.85"/><rect x="20.9" y="40.35" width="7" height="1.2" fill="#e8f2f8" opacity="0.85"/><rect x="46.9" y="40.35" width="13" height="1.2" fill="#e8f2f8" opacity="0.85"/><rect x="76.9" y="40.35" width="3" height="1.2" fill="#e8f2f8" opacity="0.85"/><rect x="88.9" y="40.35" width="2.4" height="1.2" fill="#e8f2f8" opacity="0.85"/><rect x="99.9" y="40.35" width="2.4" height="1.2" fill="#e8f2f8" opacity="0.85"/><rect x="109.5" y="40.35" width="4" height="1.2" fill="#e8f2f8" opacity="0.85"/><rect x="11.5" y="45.94" width="4" height="1.2" fill="#e8f2f8" opacity="0.85"/><rect x="20.9" y="45.94" width="7" height="1.2" fill="#e8f2f8" opacity="0.85"/><rect x="46.9" y="45.94" width="13" height="1.2" fill="#e8f2f8" opacity="0.85"/><rect x="76.9" y="45.94" width="3" height="1.2" fill="#e8f2f8" opacity="0.85"/><rect x="88.9" y="45.94" width="2.4" height="1.2" fill="#e8f2f8" opacity="0.85"/><rect x="99.9" y="45.94" width="2.4" height="1.2" fill="#e8f2f8" opacity="0.85"/><rect x="109.5" y="45.94" width="4" height="1.2" fill="#e8f2f8" opacity="0.85"/><rect x="11.5" y="51.53" width="4" height="1.2" fill="#e8f2f8" opacity="0.85"/><rect x="20.9" y="51.53" width="7" height="1.2" fill="#e8f2f8" opacity="0.85"/><rect x="46.9" y="51.53" width="13" height="1.2" fill="#e8f2f8" opacity="0.85"/><rect x="76.9" y="51.53" width="3" height="1.2" fill="#e8f2f8" opacity="0.85"/><rect x="88.9" y="51.53" width="2.4" height="1.2" fill="#e8f2f8" opacity="0.85"/><rect x="99.9" y="51.53" width="2.4" height="1.2" fill="#e8f2f8" opacity="0.85"/><rect x="109.5" y="51.53" width="4" height="1.2" fill="#e8f2f8" opacity="0.85"/><rect x="11.5" y="57.12" width="4" height="1.2" fill="#e8f2f8" opacity="0.85"/><rect x="20.9" y="57.12" width="7" height="1.2" fill="#e8f2f8" opacity="0.85"/><rect x="46.9" y="57.12" width="13" height="1.2" fill="#e8f2f8" opacity="0.85"/><rect x="76.9" y="57.12" width="3" height="1.2" fill="#e8f2f8" opacity="0.85"/><rect x="88.9" y="57.12" width="2.4" height="1.2" fill="#e8f2f8" opacity="0.85"/><rect x="99.9" y="57.12" width="2.4" height="1.2" fill="#e8f2f8" opacity="0.85"/><rect x="109.5" y="57.12" width="4" height="1.2" fill="#e8f2f8" opacity="0.85"/><rect x="50" y="6.2" width="18" height="1.2" fill="#cfd3df"/><rect x="9" y="6.4" width="16" height="0.9" fill="#7d8296"/><rect x="102" y="6.4" width="8" height="0.9" fill="#7d8296"/><rect x="16.6" y="10.1" width="0.35" height="50.9" fill="#5b6072" opacity="0.7"/><rect x="29.6" y="10.1" width="0.35" height="50.9" fill="#5b6072" opacity="0.7"/><rect x="69.6" y="10.1" width="0.35" height="50.9" fill="#5b6072" opacity="0.7"/><rect x="82.8" y="10.1" width="0.35" height="50.9" fill="#5b6072" opacity="0.7"/><rect x="93.6" y="10.1" width="0.35" height="50.9" fill="#5b6072" opacity="0.7"/><rect x="104.2" y="10.1" width="0.35" height="50.9" fill="#5b6072" opacity="0.7"/></g>
<g transform="translate(2288.6,464.4)"><rect x="0" y="0" width="119.5" height="65" fill="#fff" stroke="#e2e2e4" stroke-width="0.8"/><rect x="3.9" y="3.8" width="112" height="57.2" fill="#050505"/><rect x="3.9" y="3.8" width="112" height="6.3" fill="#1c2034"/><rect x="3.9" y="10.1" width="112" height="6.2" fill="#1379aa"/><rect x="3.9" y="16.30" width="112" height="5.59" fill="#3b4053"/><rect x="3.9" y="27.48" width="112" height="5.59" fill="#3b4053"/><rect x="3.9" y="38.66" width="112" height="5.59" fill="#3b4053"/><rect x="3.9" y="49.84" width="112" height="5.59" fill="#3b4053"/><rect x="11.5" y="12.60" width="4" height="1.2" fill="#e8f2f8" opacity="0.85"/><rect x="20.9" y="12.60" width="7" height="1.2" fill="#e8f2f8" opacity="0.85"/><rect x="46.9" y="12.60" width="13" height="1.2" fill="#e8f2f8" opacity="0.85"/><rect x="76.9" y="12.60" width="3" height="1.2" fill="#e8f2f8" opacity="0.85"/><rect x="88.9" y="12.60" width="2.4" height="1.2" fill="#e8f2f8" opacity="0.85"/><rect x="99.9" y="12.60" width="2.4" height="1.2" fill="#e8f2f8" opacity="0.85"/><rect x="109.5" y="12.60" width="4" height="1.2" fill="#e8f2f8" opacity="0.85"/><rect x="11.5" y="17.99" width="4" height="1.2" fill="#e8f2f8" opacity="0.85"/><rect x="20.9" y="17.99" width="7" height="1.2" fill="#e8f2f8" opacity="0.85"/><rect x="46.9" y="17.99" width="13" height="1.2" fill="#e8f2f8" opacity="0.85"/><rect x="76.9" y="17.99" width="3" height="1.2" fill="#e8f2f8" opacity="0.85"/><rect x="88.9" y="17.99" width="2.4" height="1.2" fill="#e8f2f8" opacity="0.85"/><rect x="99.9" y="17.99" width="2.4" height="1.2" fill="#e8f2f8" opacity="0.85"/><rect x="109.5" y="17.99" width="4" height="1.2" fill="#e8f2f8" opacity="0.85"/><rect x="11.5" y="23.58" width="4" height="1.2" fill="#e8f2f8" opacity="0.85"/><rect x="20.9" y="23.58" width="7" height="1.2" fill="#e8f2f8" opacity="0.85"/><rect x="46.9" y="23.58" width="13" height="1.2" fill="#e8f2f8" opacity="0.85"/><rect x="76.9" y="23.58" width="3" height="1.2" fill="#e8f2f8" opacity="0.85"/><rect x="88.9" y="23.58" width="2.4" height="1.2" fill="#e8f2f8" opacity="0.85"/><rect x="99.9" y="23.58" width="2.4" height="1.2" fill="#e8f2f8" opacity="0.85"/><rect x="109.5" y="23.58" width="4" height="1.2" fill="#e8f2f8" opacity="0.85"/><rect x="11.5" y="29.17" width="4" height="1.2" fill="#e8f2f8" opacity="0.85"/><rect x="20.9" y="29.17" width="7" height="1.2" fill="#e8f2f8" opacity="0.85"/><rect x="46.9" y="29.17" width="13" height="1.2" fill="#e8f2f8" opacity="0.85"/><rect x="76.9" y="29.17" width="3" height="1.2" fill="#e8f2f8" opacity="0.85"/><rect x="88.9" y="29.17" width="2.4" height="1.2" fill="#e8f2f8" opacity="0.85"/><rect x="99.9" y="29.17" width="2.4" height="1.2" fill="#e8f2f8" opacity="0.85"/><rect x="109.5" y="29.17" width="4" height="1.2" fill="#e8f2f8" opacity="0.85"/><rect x="11.5" y="34.76" width="4" height="1.2" fill="#e8f2f8" opacity="0.85"/><rect x="20.9" y="34.76" width="7" height="1.2" fill="#e8f2f8" opacity="0.85"/><rect x="46.9" y="34.76" width="13" height="1.2" fill="#e8f2f8" opacity="0.85"/><rect x="76.9" y="34.76" width="3" height="1.2" fill="#e8f2f8" opacity="0.85"/><rect x="88.9" y="34.76" width="2.4" height="1.2" fill="#e8f2f8" opacity="0.85"/><rect x="99.9" y="34.76" width="2.4" height="1.2" fill="#e8f2f8" opacity="0.85"/><rect x="109.5" y="34.76" width="4" height="1.2" fill="#e8f2f8" opacity="0.85"/><rect x="11.5" y="40.35" width="4" height="1.2" fill="#e8f2f8" opacity="0.85"/><rect x="20.9" y="40.35" width="7" height="1.2" fill="#e8f2f8" opacity="0.85"/><rect x="46.9" y="40.35" width="13" height="1.2" fill="#e8f2f8" opacity="0.85"/><rect x="76.9" y="40.35" width="3" height="1.2" fill="#e8f2f8" opacity="0.85"/><rect x="88.9" y="40.35" width="2.4" height="1.2" fill="#e8f2f8" opacity="0.85"/><rect x="99.9" y="40.35" width="2.4" height="1.2" fill="#e8f2f8" opacity="0.85"/><rect x="109.5" y="40.35" width="4" height="1.2" fill="#e8f2f8" opacity="0.85"/><rect x="11.5" y="45.94" width="4" height="1.2" fill="#e8f2f8" opacity="0.85"/><rect x="20.9" y="45.94" width="7" height="1.2" fill="#e8f2f8" opacity="0.85"/><rect x="46.9" y="45.94" width="13" height="1.2" fill="#e8f2f8" opacity="0.85"/><rect x="76.9" y="45.94" width="3" height="1.2" fill="#e8f2f8" opacity="0.85"/><rect x="88.9" y="45.94" width="2.4" height="1.2" fill="#e8f2f8" opacity="0.85"/><rect x="99.9" y="45.94" width="2.4" height="1.2" fill="#e8f2f8" opacity="0.85"/><rect x="109.5" y="45.94" width="4" height="1.2" fill="#e8f2f8" opacity="0.85"/><rect x="11.5" y="51.53" width="4" height="1.2" fill="#e8f2f8" opacity="0.85"/><rect x="20.9" y="51.53" width="7" height="1.2" fill="#e8f2f8" opacity="0.85"/><rect x="46.9" y="51.53" width="13" height="1.2" fill="#e8f2f8" opacity="0.85"/><rect x="76.9" y="51.53" width="3" height="1.2" fill="#e8f2f8" opacity="0.85"/><rect x="88.9" y="51.53" width="2.4" height="1.2" fill="#e8f2f8" opacity="0.85"/><rect x="99.9" y="51.53" width="2.4" height="1.2" fill="#e8f2f8" opacity="0.85"/><rect x="109.5" y="51.53" width="4" height="1.2" fill="#e8f2f8" opacity="0.85"/><rect x="11.5" y="57.12" width="4" height="1.2" fill="#e8f2f8" opacity="0.85"/><rect x="20.9" y="57.12" width="7" height="1.2" fill="#e8f2f8" opacity="0.85"/><rect x="46.9" y="57.12" width="13" height="1.2" fill="#e8f2f8" opacity="0.85"/><rect x="76.9" y="57.12" width="3" height="1.2" fill="#e8f2f8" opacity="0.85"/><rect x="88.9" y="57.12" width="2.4" height="1.2" fill="#e8f2f8" opacity="0.85"/><rect x="99.9" y="57.12" width="2.4" height="1.2" fill="#e8f2f8" opacity="0.85"/><rect x="109.5" y="57.12" width="4" height="1.2" fill="#e8f2f8" opacity="0.85"/><rect x="50" y="6.2" width="18" height="1.2" fill="#cfd3df"/><rect x="9" y="6.4" width="16" height="0.9" fill="#7d8296"/><rect x="102" y="6.4" width="8" height="0.9" fill="#7d8296"/><rect x="16.6" y="10.1" width="0.35" height="50.9" fill="#5b6072" opacity="0.7"/><rect x="29.6" y="10.1" width="0.35" height="50.9" fill="#5b6072" opacity="0.7"/><rect x="69.6" y="10.1" width="0.35" height="50.9" fill="#5b6072" opacity="0.7"/><rect x="82.8" y="10.1" width="0.35" height="50.9" fill="#5b6072" opacity="0.7"/><rect x="93.6" y="10.1" width="0.35" height="50.9" fill="#5b6072" opacity="0.7"/><rect x="104.2" y="10.1" width="0.35" height="50.9" fill="#5b6072" opacity="0.7"/></g>
<path d="M1575 508.3 H1639" stroke="#595757" stroke-width="1.6"/><path d="M1564.2 508.3 L1575.2 500.8 V515.8 Z" fill="#595757"/>
<path d="M2050 509.3 H2120" stroke="#595757" stroke-width="1.6"/><path d="M2130.3 509.3 L2119.3 501.9 V516.7 Z" fill="#595757"/>
<g transform="translate(1620,430) scale(0.20036)" fill="#a4d0f0">
<ellipse cx="560" cy="270" rx="292" ry="142"/><ellipse cx="1000" cy="232" rx="272" ry="142"/><ellipse cx="1330" cy="222" rx="232" ry="148"/><ellipse cx="1700" cy="212" rx="228" ry="138"/>
<ellipse cx="1850" cy="262" rx="256" ry="112"/><ellipse cx="1848" cy="392" rx="302" ry="130"/><ellipse cx="1550" cy="518" rx="322" ry="116"/><ellipse cx="1150" cy="572" rx="330" ry="140"/>
<ellipse cx="650" cy="542" rx="332" ry="130"/><ellipse cx="400" cy="502" rx="266" ry="100"/><ellipse cx="400" cy="382" rx="312" ry="96"/><rect x="450" y="230" width="1300" height="330"/></g>
<line x1="1699.7" y1="558.1" x2="1439" y2="761.7" stroke="#6a6867" stroke-width="0.8" marker-end="url(#ah)"/>
<line x1="1760.8" y1="577" x2="1604.4" y2="757.7" stroke="#6a6867" stroke-width="0.8" marker-end="url(#ah)"/>
<line x1="1816.4" y1="578" x2="1779.6" y2="753.7" stroke="#6a6867" stroke-width="0.8" marker-start="url(#ah)" marker-end="url(#ah)"/>
<line x1="1903.8" y1="577" x2="1939.5" y2="753.7" stroke="#6a6867" stroke-width="0.8" marker-start="url(#ah)" marker-end="url(#ah)"/>
<line x1="1957.9" y1="567" x2="2111.8" y2="757.7" stroke="#6a6867" stroke-width="0.8" marker-end="url(#ah)"/>
<line x1="2018.5" y1="536.8" x2="2309.4" y2="776.6" stroke="#6a6867" stroke-width="0.8" marker-end="url(#ah)"/>
<circle cx="1396.75" cy="816.5" r="56.1" fill="#207cc1"/>
<g transform="translate(1369.00,793.60)" opacity="1"><rect x="0" y="0" width="55.5" height="37.6" rx="2" fill="#fff"/><rect x="3.2" y="3.2" width="49.1" height="29.4" fill="#207cc1"/>
<circle cx="16.8" cy="10.4" r="3.1" fill="#fff"/><rect x="30" y="7.2" width="13.6" height="1.2" fill="#fff"/><rect x="30" y="10" width="13.6" height="1.2" fill="#fff"/>
<path d="M13 18 H26.8 M13 20.2 H26.8 M13 22.4 H26.8 M13 24.6 H26.8 M13 26.4 H26.8" stroke="#fff" stroke-width="1.2"/><rect x="30" y="17.4" width="13.6" height="8.8" fill="#fff"/>
<path d="M23 37.4 H33 V44.4 H39.8 V47 H16 V44.4 H23 Z" fill="#fff"/></g>
<circle cx="1591.9" cy="815.25" r="56.1" fill="#a4d0f0"/>
<g transform="translate(1568.90,796.45)" fill="none" stroke="#fff" stroke-width="3" stroke-linejoin="round" opacity="0.9"><path d="M7.6 1.6 H38.6 Q41 1.6 41.4 4 L44.6 25.8 H1.6 L4.8 4 Q5.2 1.6 7.6 1.6 Z"/><path d="M1.6 25.8 H44.6 V35.2 Q44.6 37.4 42.4 37.4 H3.8 Q1.6 37.4 1.6 35.2 Z"/>
<g fill="#fff" stroke="none"><circle cx="24.4" cy="31.6" r="1.5"/><circle cx="30.2" cy="31.6" r="1.5"/><rect x="34.6" y="30.3" width="6" height="2.6" rx="1.2"/></g></g>
<circle cx="1772.25" cy="814.75" r="56.1" fill="#207cc1"/>
<g transform="translate(1749.25,795.95)" fill="none" stroke="#fff" stroke-width="3" stroke-linejoin="round" opacity="1"><path d="M7.6 1.6 H38.6 Q41 1.6 41.4 4 L44.6 25.8 H1.6 L4.8 4 Q5.2 1.6 7.6 1.6 Z"/><path d="M1.6 25.8 H44.6 V35.2 Q44.6 37.4 42.4 37.4 H3.8 Q1.6 37.4 1.6 35.2 Z"/>
<g fill="#fff" stroke="none"><circle cx="24.4" cy="31.6" r="1.5"/><circle cx="30.2" cy="31.6" r="1.5"/><rect x="34.6" y="30.3" width="6" height="2.6" rx="1.2"/></g></g>
<circle cx="1958.9" cy="818.2" r="56.1" fill="#a4d0f0"/>
<g transform="translate(1935.90,799.40)" fill="none" stroke="#fff" stroke-width="3" stroke-linejoin="round" opacity="0.9"><path d="M7.6 1.6 H38.6 Q41 1.6 41.4 4 L44.6 25.8 H1.6 L4.8 4 Q5.2 1.6 7.6 1.6 Z"/><path d="M1.6 25.8 H44.6 V35.2 Q44.6 37.4 42.4 37.4 H3.8 Q1.6 37.4 1.6 35.2 Z"/>
<g fill="#fff" stroke="none"><circle cx="24.4" cy="31.6" r="1.5"/><circle cx="30.2" cy="31.6" r="1.5"/><rect x="34.6" y="30.3" width="6" height="2.6" rx="1.2"/></g></g>
<circle cx="2153" cy="818.7" r="56.1" fill="#207cc1"/>
<g transform="translate(2130.00,799.90)" fill="none" stroke="#fff" stroke-width="3" stroke-linejoin="round" opacity="1"><path d="M7.6 1.6 H38.6 Q41 1.6 41.4 4 L44.6 25.8 H1.6 L4.8 4 Q5.2 1.6 7.6 1.6 Z"/><path d="M1.6 25.8 H44.6 V35.2 Q44.6 37.4 42.4 37.4 H3.8 Q1.6 37.4 1.6 35.2 Z"/>
<g fill="#fff" stroke="none"><circle cx="24.4" cy="31.6" r="1.5"/><circle cx="30.2" cy="31.6" r="1.5"/><rect x="34.6" y="30.3" width="6" height="2.6" rx="1.2"/></g></g>
<circle cx="2351.6" cy="816.7" r="56.1" fill="#a4d0f0"/>
<g transform="translate(2323.85,793.80)" opacity="0.82"><rect x="0" y="0" width="55.5" height="37.6" rx="2" fill="#fff"/><rect x="3.2" y="3.2" width="49.1" height="29.4" fill="#a4d0f0"/>
<circle cx="16.8" cy="10.4" r="3.1" fill="#fff"/><rect x="30" y="7.2" width="13.6" height="1.2" fill="#fff"/><rect x="30" y="10" width="13.6" height="1.2" fill="#fff"/>
<path d="M13 18 H26.8 M13 20.2 H26.8 M13 22.4 H26.8 M13 24.6 H26.8 M13 26.4 H26.8" stroke="#fff" stroke-width="1.2"/><rect x="30" y="17.4" width="13.6" height="8.8" fill="#fff"/>
<path d="M23 37.4 H33 V44.4 H39.8 V47 H16 V44.4 H23 Z" fill="#fff"/></g>
<rect x="1310.50" y="1056.60" width="1097.80" height="358.00" fill="none" stroke="#858282" stroke-width="1.2" stroke-dasharray="1.2 2.83"/>
<line x1="1474.00" y1="1083.00" x2="1474.00" y2="1383.30" stroke="#b9b9b9" stroke-width="0.9" stroke-dasharray="0.8 0.8"/>
<line x1="2260.60" y1="1081.60" x2="2260.60" y2="1381.80" stroke="#9a9a9a" stroke-width="0.9" stroke-dasharray="0.8 1.4"/>
<path d="M1397.25 1004.5 l23.1 20 h-10.2 V1090.75 h10.2 L1397.25 1110.75 l-23.1 -20 h10.2 V1024.5 h-10.2 Z" fill="#a4d0f0"/>
<path d="M1588.75 1002 l23.1 20 h-10.2 V1088.75 h10.2 L1588.75 1108.75 l-23.1 -20 h10.2 V1022 h-10.2 Z" fill="#a4d0f0"/>
<path d="M1771.75 1002 l23.1 20 h-10.2 V1088.75 h10.2 L1771.75 1108.75 l-23.1 -20 h10.2 V1022 h-10.2 Z" fill="#a4d0f0"/>
<path d="M1957.9 1003.2 l23.1 20 h-10.2 V1089.9 h10.2 L1957.9 1109.9 l-23.1 -20 h10.2 V1023.2 h-10.2 Z" fill="#a4d0f0"/>
<path d="M2156.5 997.2 l23.1 20 h-10.2 V1083.5 h10.2 L2156.5 1103.5 l-23.1 -20 h10.2 V1017.2 h-10.2 Z" fill="#a4d0f0"/>
<path d="M2343.7 998.2 l23.1 20 h-10.2 V1085 h10.2 L2343.7 1105 l-23.1 -20 h10.2 V1018.2 h-10.2 Z" fill="#a4d0f0"/>
<circle cx="1387.6" cy="1240.4" r="56.1" fill="#207cc1"/>
<circle cx="1579.6" cy="1240.4" r="56.1" fill="#a4d0f0"/>
<circle cx="1771.9" cy="1239.25" r="56.1" fill="#207cc1"/>
<circle cx="1965.6" cy="1242" r="56.1" fill="#a4d0f0"/>
<circle cx="2156.8" cy="1243" r="56.1" fill="#207cc1"/>
<circle cx="2347.7" cy="1239" r="56.1" fill="#a4d0f0"/>
<path d="M1452.1 1227.8 h49.2 v-8.7 l19.6 19.5 l-19.6 19.5 v-8.7 h-49.2 Z" fill="#a4d0f0"/>
<path d="M1640.75 1227.8 h49.2 v-8.7 l19.6 19.5 l-19.6 19.5 v-8.7 h-49.2 Z" fill="#a4d0f0"/>
<path d="M1834.4 1228.1000000000001 h49.2 v-8.7 l19.6 19.5 l-19.6 19.5 v-8.7 h-49.2 Z" fill="#a4d0f0"/>
<path d="M2026.4 1228.5 h49.2 v-8.7 l19.6 19.5 l-19.6 19.5 v-8.7 h-49.2 Z" fill="#a4d0f0"/>
<path d="M2220.6 1228.5 h49.2 v-8.7 l19.6 19.5 l-19.6 19.5 v-8.7 h-49.2 Z" fill="#a4d0f0"/>
<g fill="none" stroke="#fff" stroke-width="3.2" stroke-linejoin="round"><rect x="1368.4" y="1234.5" width="8.8" height="23.8" rx="1.2"/><rect x="1382.8" y="1219.3" width="11.1" height="39" rx="1.6"/><rect x="1399.5" y="1229.8" width="8.2" height="28.5" rx="1.2"/>
<path d="M1385.7 1237.4 H1391 M1385.7 1241.6 H1391 M1385.7 1245.9 H1391 M1385.7 1250.1 H1391" stroke-width="1.7"/></g>
<g fill="none" stroke="#fff" stroke-width="3.4" stroke-linejoin="miter" stroke-linecap="butt"><path d="M1587.60 1240.60 L1583.60 1247.53 L1575.60 1247.53 L1571.60 1240.60 L1575.60 1233.67 L1583.60 1233.67 Z"/><path d="M1579.60 1247.80 L1579.60 1256.00"/><path d="M1579.60 1254.80 l4.01 3.61" stroke-width="3"/><path d="M1579.60 1254.80 l-4.01 3.61" stroke-width="3"/><path d="M1573.36 1244.20 L1566.26 1248.30"/><path d="M1567.30 1247.70 l-1.12 5.28" stroke-width="3"/><path d="M1567.30 1247.70 l-5.14 -1.67" stroke-width="3"/><path d="M1573.36 1237.00 L1566.26 1232.90"/><path d="M1567.30 1233.50 l-5.14 1.67" stroke-width="3"/><path d="M1567.30 1233.50 l-1.12 -5.28" stroke-width="3"/><path d="M1579.60 1233.40 L1579.60 1225.20"/><path d="M1579.60 1226.40 l-4.01 -3.61" stroke-width="3"/><path d="M1579.60 1226.40 l4.01 -3.61" stroke-width="3"/></g>
<rect x="1594" y="1229.2" width="4.2" height="12.6" fill="#fff"/><rect x="1594" y="1244.9" width="4.2" height="4.6" fill="#fff"/>
<g fill="none" stroke="#fff" stroke-linecap="round"><path d="M1753.2 1235.1 H1790.8" stroke-width="3.2"/><path d="M1756.6 1235.6 V1248.4 Q1756.6 1254.6 1762.8 1254.6 H1781.8 Q1788 1254.6 1788 1248.4 V1235.6" stroke-width="3.2"/>
<path d="M1758.6 1245.6 Q1765 1247.6 1772 1245.2 Q1779 1242.8 1786 1244.6" stroke-width="1.3"/>
<path d="M1763.4 1221.6 Q1761.6 1224.6 1763.6 1227 Q1765.4 1229.6 1763.8 1232.4 M1771.8 1221.6 Q1770 1224.6 1772 1227 Q1773.8 1229.6 1772.2 1232.4 M1779.8 1221.6 Q1778 1224.6 1780 1227 Q1781.8 1229.6 1780.2 1232.4" stroke-width="1.7"/></g>
<g fill="none" stroke="#fff" stroke-width="2.1" stroke-linejoin="round" opacity="0.95"><rect x="1956" y="1223.7" width="20.8" height="20.9" rx="5"/><circle cx="1965.9" cy="1235.1" r="2.8"/><path d="M1942.8 1224.6 H1946.6 L1963.4 1233.9"/>
<path d="M1948 1246.2 H1981.3 L1987.9 1255.3 H1948 Z"/><path d="M1953.2 1255.3 V1262.5 H1978.7 V1255.3"/></g>
<g fill="none" stroke="#fff" stroke-width="3.1" stroke-linejoin="round" stroke-linecap="round"><path d="M2144.6 1227.2 H2177.6 M2145.2 1223 V1227.2 M2177 1223 V1227.2"/><path d="M2161.2 1227.4 V1233"/>
<path d="M2149.6 1235 Q2161.2 1231.6 2173.4 1235 L2177.6 1260.4 H2144.8 Z"/><circle cx="2161.2" cy="1246.4" r="7.6" stroke-width="2.8"/>
<path d="M2148.4 1242.4 H2154.6 M2167.8 1242.4 H2174.6 M2147.4 1251 H2155 M2167.4 1251 H2175.6" stroke-width="2.4"/><path d="M2160.6 1247 L2164.6 1243" stroke-width="2"/></g>
<g><path d="M2339.2 1230 L2354.9 1229.8 L2370.4 1246 H2366 V1260.6 H2343.4 V1246 H2339 Z" fill="#fff" opacity="0.22" transform="translate(0,0)"/><path d="M2354.9 1229.8 L2370.4 1246.2 H2366 V1260.6 H2343.4 V1246.2 H2339 Z" fill="#fff" opacity="0.18"/><path d="M2332.4 1237 H2328.4 L2347.9 1217.6 L2367.6 1237 H2362.6 V1251.8 Q2362.6 1254.7 2359.8 1254.7 H2335.2 Q2332.4 1254.7 2332.4 1251.8 Z" fill="none" stroke="#fff" stroke-width="1.9" stroke-linejoin="miter"/><rect x="2346.2000000000003" y="1243.7" width="2.4" height="2.4" fill="#fff"/><rect x="2351.0" y="1243.7" width="2.4" height="2.4" fill="#fff"/><rect x="2341.2000000000003" y="1248.3" width="2.4" height="2.4" fill="#fff"/><rect x="2346.2000000000003" y="1248.3" width="2.4" height="2.4" fill="#fff"/><rect x="2351.0" y="1248.3" width="2.4" height="2.4" fill="#fff"/><rect x="2355.6000000000004" y="1248.3" width="2.4" height="2.4" fill="#fff"/><rect x="2341.2000000000003" y="1252.8" width="2.4" height="2.4" fill="#fff"/><rect x="2346.2000000000003" y="1252.8" width="2.4" height="2.4" fill="#fff"/><rect x="2351.0" y="1252.8" width="2.4" height="2.4" fill="#fff"/><rect x="2355.6000000000004" y="1252.8" width="2.4" height="2.4" fill="#fff"/></g>
</svg>
<div class="t" style="top:67.08px;font-size:14.5px;line-height:18.85px;color:#231815;letter-spacing:1.2px;left:73.00px;">南昌金创</div>
<div class="t" style="top:66.10px;font-size:16px;line-height:20.8px;color:#231815;left:141.50px;">·</div>
<div class="t" style="top:66.10px;font-size:16px;line-height:20.8px;color:#231815;left:150.50px;transform:scaleX(0.9164);transform-origin:0 50%;">JINCHUANG TECHNOLOGY</div>
<div class="t" style="top:66.10px;font-size:16px;line-height:20.8px;color:#231815;left:1529.50px;width:800px;text-align:right;transform:scaleX(0.9164);transform-origin:100% 50%;">JINCHUANG TECHNOLOGY</div>
<div class="t" style="top:66.10px;font-size:16px;line-height:20.8px;color:#231815;left:2335.50px;">·</div>
<div class="t" style="top:67.08px;font-size:14.5px;line-height:18.85px;color:#231815;letter-spacing:1.2px;left:2346.00px;">南昌金创</div>
<div class="t" style="top:180.70px;font-size:60px;line-height:78.0px;color:#231815;font-weight:bold;letter-spacing:1.5px;left:70.20px;transform:scaleX(0.6542);transform-origin:0 50%;-webkit-text-stroke:1.2px #231815;text-shadow:1.3px 0 0 #231815,-1.3px 0 0 #231815,2.6px 0 0 #231815,-2.6px 0 0 #231815;">DIGITAL INTELLIGENT WORKSHOP</div>
<div class="t" style="top:180.70px;font-size:60px;line-height:78.0px;color:#231815;font-weight:bold;letter-spacing:1.5px;left:1310.20px;transform:scaleX(0.6471);transform-origin:0 50%;-webkit-text-stroke:1.2px #231815;text-shadow:1.3px 0 0 #231815,-1.3px 0 0 #231815,2.6px 0 0 #231815,-2.6px 0 0 #231815;">NUMBER OF INTELLIGENT BUILDING PROGRAM</div>
<div class="t" style="top:263.75px;font-size:45px;line-height:58.5px;color:#231815;letter-spacing:0.18px;left:69.80px;font-weight:300;">数智化车间整体打造技术架构</div>
<div class="t" style="top:263.75px;font-size:45px;line-height:58.5px;color:#231815;letter-spacing:0.18px;left:1309.80px;font-weight:300;">数智化车间整体打造方案</div>
<div class="t" style="top:394.70px;font-size:22px;line-height:28.6px;color:#231815;letter-spacing:0.6px;left:41.50px;width:800px;text-align:center;">智能数字驾驶舱(数字孪生平台)</div>
<div class="t" style="top:394.70px;font-size:22px;line-height:28.6px;color:#231815;letter-spacing:0.6px;left:586.00px;width:800px;text-align:center;">智能决策</div>
<div class="t" style="top:488.00px;font-size:20px;line-height:26.0px;color:#207cc1;font-weight:bold;left:-263.25px;width:800px;text-align:center;">计划工单</div>
<div class="t" style="top:535.85px;font-size:15px;line-height:19.5px;color:#fff;left:-263.65px;width:800px;text-align:center;">计划接收和排产</div>
<div class="t" style="top:574.65px;font-size:15px;line-height:19.5px;color:#fff;left:-263.65px;width:800px;text-align:center;">工单派工和下发</div>
<div class="t" style="top:612.95px;font-size:15px;line-height:19.5px;color:#fff;left:-263.65px;width:800px;text-align:center;">插单调整和执行</div>
<div class="t" style="top:651.65px;font-size:15px;line-height:19.5px;color:#fff;left:-263.65px;width:800px;text-align:center;">备料计划和配送</div>
<div class="t" style="top:488.00px;font-size:20px;line-height:26.0px;color:#207cc1;font-weight:bold;left:-124.75px;width:800px;text-align:center;">生产管理</div>
<div class="t" style="top:535.85px;font-size:15px;line-height:19.5px;color:#fff;left:-125.15px;width:800px;text-align:center;">工单执行</div>
<div class="t" style="top:574.65px;font-size:15px;line-height:19.5px;color:#fff;left:-125.15px;width:800px;text-align:center;">作业指示</div>
<div class="t" style="top:612.95px;font-size:15px;line-height:19.5px;color:#fff;left:-125.15px;width:800px;text-align:center;">防错防呆</div>
<div class="t" style="top:651.65px;font-size:15px;line-height:19.5px;color:#fff;left:-125.15px;width:800px;text-align:center;">完工数上报</div>
<div class="t" style="top:488.00px;font-size:20px;line-height:26.0px;color:#207cc1;font-weight:bold;left:13.50px;width:800px;text-align:center;">质量管理</div>
<div class="t" style="top:535.85px;font-size:15px;line-height:19.5px;color:#fff;left:13.10px;width:800px;text-align:center;">体系定义</div>
<div class="t" style="top:574.65px;font-size:15px;line-height:19.5px;color:#fff;left:13.10px;width:800px;text-align:center;">智能表单</div>
<div class="t" style="top:612.95px;font-size:15px;line-height:19.5px;color:#fff;left:13.10px;width:800px;text-align:center;">分析报告</div>
<div class="t" style="top:651.65px;font-size:15px;line-height:19.5px;color:#fff;left:13.10px;width:800px;text-align:center;">决策改进</div>
<div class="t" style="top:488.00px;font-size:20px;line-height:26.0px;color:#207cc1;font-weight:bold;left:151.50px;width:800px;text-align:center;">设备数采</div>
<div class="t" style="top:535.85px;font-size:15px;line-height:19.5px;color:#fff;left:151.10px;width:800px;text-align:center;">设备台账</div>
<div class="t" style="top:574.65px;font-size:15px;line-height:19.5px;color:#fff;left:151.10px;width:800px;text-align:center;">设备点巡检</div>
<div class="t" style="top:612.95px;font-size:15px;line-height:19.5px;color:#fff;left:151.10px;width:800px;text-align:center;">设备数据</div>
<div class="t" style="top:651.65px;font-size:15px;line-height:19.5px;color:#fff;left:151.10px;width:800px;text-align:center;">维修保养</div>
<div class="t" style="top:488.00px;font-size:20px;line-height:26.0px;color:#207cc1;font-weight:bold;left:290.25px;width:800px;text-align:center;">能源管理</div>
<div class="t" style="top:535.85px;font-size:15px;line-height:19.5px;color:#fff;left:289.85px;width:800px;text-align:center;">电表管理</div>
<div class="t" style="top:574.65px;font-size:15px;line-height:19.5px;color:#fff;left:289.85px;width:800px;text-align:center;">能耗采集</div>
<div class="t" style="top:612.95px;font-size:15px;line-height:19.5px;color:#fff;left:289.85px;width:800px;text-align:center;">统计分析</div>
<div class="t" style="top:651.65px;font-size:15px;line-height:19.5px;color:#fff;left:289.85px;width:800px;text-align:center;">能耗比对</div>
<div class="t" style="top:488.00px;font-size:20px;line-height:26.0px;color:#207cc1;font-weight:bold;left:428.75px;width:800px;text-align:center;">仓储物流</div>
<div class="t" style="top:535.85px;font-size:15px;line-height:19.5px;color:#fff;left:428.35px;width:800px;text-align:center;">物料收发</div>
<div class="t" style="top:574.65px;font-size:15px;line-height:19.5px;color:#fff;left:428.35px;width:800px;text-align:center;">库存管理</div>
<div class="t" style="top:612.95px;font-size:15px;line-height:19.5px;color:#fff;left:428.35px;width:800px;text-align:center;">出入库记录</div>
<div class="t" style="top:651.65px;font-size:15px;line-height:19.5px;color:#fff;left:428.35px;width:800px;text-align:center;">合格证单据打印</div>
<div class="t" style="top:488.00px;font-size:20px;line-height:26.0px;color:#207cc1;font-weight:bold;left:567.25px;width:800px;text-align:center;">按灯呼叫</div>
<div class="t" style="top:535.85px;font-size:15px;line-height:19.5px;color:#fff;left:566.85px;width:800px;text-align:center;">异常呼叫</div>
<div class="t" style="top:574.65px;font-size:15px;line-height:19.5px;color:#fff;left:566.85px;width:800px;text-align:center;">异常推送</div>
<div class="t" style="top:612.95px;font-size:15px;line-height:19.5px;color:#fff;left:566.85px;width:800px;text-align:center;">异常处理</div>
<div class="t" style="top:651.65px;font-size:15px;line-height:19.5px;color:#fff;left:566.85px;width:800px;text-align:center;">呼叫记录</div>
<div class="t" style="top:488.00px;font-size:20px;line-height:26.0px;color:#207cc1;font-weight:bold;left:703.50px;width:800px;text-align:center;">数据报表</div>
<div class="t" style="top:535.85px;font-size:15px;line-height:19.5px;color:#fff;left:704.80px;width:800px;text-align:center;">生产执行报表</div>
<div class="t" style="top:574.65px;font-size:15px;line-height:19.5px;color:#fff;left:704.80px;width:800px;text-align:center;">设备数采报表</div>
<div class="t" style="top:612.95px;font-size:15px;line-height:19.5px;color:#fff;left:704.80px;width:800px;text-align:center;">能耗异常报表</div>
<div class="t" style="top:647.50px;font-size:15px;line-height:18px;color:#fff;left:704.80px;width:800px;text-align:center;">仓储物流报表<br>质量报表</div>
<div class="t" style="top:743.75px;font-size:20px;line-height:27.5px;color:#231815;font-weight:bold;left:-264.75px;width:800px;text-align:center;">工业物联<br>网平台</div>
<div class="t" style="top:742.75px;font-size:20px;line-height:27.5px;color:#231815;font-weight:bold;left:710.25px;width:800px;text-align:center;">南昌金创<br>制造云</div>
<div class="t" style="top:738.75px;font-size:15px;line-height:19.5px;color:#fff;left:-125.75px;width:800px;text-align:center;">数据采集</div>
<div class="t" style="top:778.75px;font-size:15px;line-height:19.5px;color:#fff;left:-125.75px;width:800px;text-align:center;">设备注册</div>
<div class="t" style="top:738.75px;font-size:15px;line-height:19.5px;color:#fff;left:31.75px;width:800px;text-align:center;">开放API接口</div>
<div class="t" style="top:778.75px;font-size:15px;line-height:19.5px;color:#fff;left:31.75px;width:800px;text-align:center;">设备联动</div>
<div class="t" style="top:738.75px;font-size:15px;line-height:19.5px;color:#fff;left:182.00px;width:800px;text-align:center;">数据清洗存储</div>
<div class="t" style="top:778.75px;font-size:15px;line-height:19.5px;color:#fff;left:182.00px;width:800px;text-align:center;">规则引擎</div>
<div class="t" style="top:738.75px;font-size:15px;line-height:19.5px;color:#fff;left:336.75px;width:800px;text-align:center;">边缘计算</div>
<div class="t" style="top:778.75px;font-size:15px;line-height:19.5px;color:#fff;left:336.75px;width:800px;text-align:center;">跨平台LOTSDK</div>
<div class="t" style="top:738.75px;font-size:15px;line-height:19.5px;color:#fff;left:491.25px;width:800px;text-align:center;">工艺知识库</div>
<div class="t" style="top:778.75px;font-size:15px;line-height:19.5px;color:#fff;left:491.25px;width:800px;text-align:center;">反向控制</div>
<div class="t" style="top:840.30px;font-size:16px;line-height:20.8px;color:#3e3a39;left:-272.25px;width:800px;text-align:center;transform:scaleX(0.8540);transform-origin:50% 50%;">CNC/DNC</div>
<div class="t" style="top:840.30px;font-size:16px;line-height:20.8px;color:#3e3a39;left:-203.12px;width:800px;text-align:center;transform:scaleX(0.8075);transform-origin:50% 50%;">PLCS</div>
<div class="t" style="top:841.40px;font-size:14px;line-height:18.2px;color:#3e3a39;left:-145.00px;width:800px;text-align:center;font-weight:300;">机器人</div>
<div class="t" style="top:841.40px;font-size:14px;line-height:18.2px;color:#3e3a39;left:-39.00px;width:800px;text-align:center;font-weight:300;">检验检测</div>
<div class="t" style="top:841.40px;font-size:14px;line-height:18.2px;color:#3e3a39;left:40.38px;width:800px;text-align:center;font-weight:300;">感知</div>
<div class="t" style="top:841.40px;font-size:14px;line-height:18.2px;color:#3e3a39;left:111.75px;width:800px;text-align:center;font-weight:300;">仪表仪器</div>
<div class="t" style="top:840.30px;font-size:16px;line-height:20.8px;color:#3e3a39;left:205.38px;width:800px;text-align:center;transform:scaleX(0.8481);transform-origin:50% 50%;">SCADA</div>
<div class="t" style="top:840.30px;font-size:16px;line-height:20.8px;color:#3e3a39;left:278.38px;width:800px;text-align:center;transform:scaleX(0.8385);transform-origin:50% 50%;">WCSS</div>
<div class="t" style="top:840.30px;font-size:16px;line-height:20.8px;color:#3e3a39;left:356.12px;width:800px;text-align:center;transform:scaleX(0.8436);transform-origin:50% 50%;">CLOUDS</div>
<div class="t" style="top:843.90px;font-size:14px;line-height:18.2px;color:#3e3a39;left:476.88px;width:800px;text-align:center;font-weight:300;">容器具</div>
<div class="t" style="top:843.90px;font-size:14px;line-height:18.2px;color:#3e3a39;left:545.25px;width:800px;text-align:center;font-weight:300;">工装</div>
<div class="t" style="top:843.90px;font-size:14px;line-height:18.2px;color:#3e3a39;left:650.62px;width:800px;text-align:center;font-weight:300;">原物料</div>
<div class="t" style="top:843.90px;font-size:14px;line-height:18.2px;color:#3e3a39;left:730.88px;width:800px;text-align:center;font-weight:300;">工人</div>
<div class="t" style="top:974.32px;font-size:17.2px;line-height:22.36px;color:#207cc1;font-weight:bold;left:89.60px;">金创<span style="display:inline-block;font-size:18px;font-weight:normal;letter-spacing:0.3px;margin-left:1.2px;margin-right:5.2px;transform:scaleX(1.1);transform-origin:0 50%;-webkit-text-stroke:0.4px #207cc1">MOM</span>平台控制中心</div>
<div class="t" style="top:974.32px;font-size:17.2px;line-height:22.36px;color:#207cc1;font-weight:bold;left:746.75px;">数据中心</div>
<div class="t" style="top:958.51px;font-size:14.6px;line-height:18.98px;color:#3e3a39;left:262.50px;width:800px;text-align:center;">交换机</div>
<div class="t" style="top:1091.55px;font-size:12.8px;line-height:16.1px;color:#3e3a39;left:-278.75px;width:800px;text-align:center;">生产<br>运营看板</div>
<div class="t" style="top:1091.55px;font-size:12.8px;line-height:16.1px;color:#3e3a39;left:-188.00px;width:800px;text-align:center;">应用<br>服务器</div>
<div class="t" style="top:1091.55px;font-size:12.8px;line-height:16.1px;color:#3e3a39;left:-132.75px;width:800px;text-align:center;">数据<br>库服务器</div>
<div class="t" style="top:1091.55px;font-size:12.8px;line-height:16.1px;color:#3e3a39;left:-75.00px;width:800px;text-align:center;">数据采<br>集服务器</div>
<div class="t" style="top:1091.55px;font-size:12.8px;line-height:16.1px;color:#3e3a39;left:-18.25px;width:800px;text-align:center;">云应用<br>服务器</div>
<div class="t" style="top:1092.95px;font-size:12.8px;line-height:16.1px;color:#3e3a39;left:53.00px;width:800px;text-align:center;">操作员站</div>
<div class="t" style="top:1091.55px;font-size:12.8px;line-height:16.1px;color:#3e3a39;left:139.25px;width:800px;text-align:center;">工程师站</div>
<div class="t" style="top:1088.55px;font-size:12.8px;line-height:16.1px;color:#3e3a39;left:402.90px;width:800px;text-align:center;">集团数据</div>
<div class="t" style="top:1088.55px;font-size:12.8px;line-height:16.1px;color:#3e3a39;left:539.40px;width:800px;text-align:center;">数据<br>库服务器</div>
<div class="t" style="top:1088.55px;font-size:12.8px;line-height:16.1px;color:#3e3a39;left:704.10px;width:800px;text-align:center;">云端用户</div>
<div class="t" style="top:1188.12px;font-size:17.2px;line-height:22.36px;color:#fff;font-weight:bold;left:42.50px;width:800px;text-align:center;">厂区专网</div>
<div class="t" style="top:1194.22px;font-size:17.2px;line-height:22.36px;color:#fff;font-weight:bold;left:518.10px;width:800px;text-align:center;">厂区专网</div>
<div class="t" style="top:1281.71px;font-size:14.6px;line-height:18.98px;color:#3e3a39;left:-170.10px;width:800px;text-align:center;">交换机</div>
<div class="t" style="top:1278.71px;font-size:14.6px;line-height:18.98px;color:#3e3a39;left:201.90px;width:800px;text-align:center;">交换机</div>
<div class="t" style="top:1318.42px;font-size:17.2px;line-height:22.36px;color:#207cc1;font-weight:bold;left:90.00px;">车间现场</div>
<div class="t" style="top:1389.54px;font-size:12.4px;line-height:16.12px;color:#3e3a39;left:117.50px;">工位站</div>
<div class="t" style="top:1389.54px;font-size:12.4px;line-height:16.12px;color:#3e3a39;left:222.50px;">工位站</div>
<div class="t" style="top:1389.54px;font-size:12.4px;line-height:16.12px;color:#3e3a39;left:305.00px;">工位站</div>
<div class="t" style="top:1389.54px;font-size:12.4px;line-height:16.12px;color:#3e3a39;left:512.50px;">工位站</div>
<div class="t" style="top:1389.54px;font-size:12.4px;line-height:16.12px;color:#3e3a39;left:617.50px;">工位站</div>
<div class="t" style="top:1389.54px;font-size:12.4px;line-height:16.12px;color:#3e3a39;left:700.00px;">工位站</div>
<div class="t" style="top:1424.17px;font-size:12.5px;line-height:16.25px;color:#3e3a39;left:295.00px;">产线工作站</div>
<div class="t" style="top:1424.17px;font-size:12.5px;line-height:16.25px;color:#3e3a39;left:687.00px;">产线工作站</div>
<div class="t" style="top:1548.88px;font-size:12.5px;line-height:16.25px;color:#3e3a39;left:-295.38px;width:800px;text-align:center;">手持终端</div>
<div class="t" style="top:1548.88px;font-size:12.5px;line-height:16.25px;color:#3e3a39;left:-224.38px;width:800px;text-align:center;">标签打印机</div>
<div class="t" style="top:1548.88px;font-size:12.5px;line-height:16.25px;color:#3e3a39;left:-148.88px;width:800px;text-align:center;">扫描枪</div>
<div class="t" style="top:1548.88px;font-size:12.5px;line-height:16.25px;color:#3e3a39;left:-71.88px;width:800px;text-align:center;">工业电脑</div>
<div class="t" style="top:1548.88px;font-size:12.5px;line-height:16.25px;color:#3e3a39;left:22.38px;width:800px;text-align:center;">工位看板</div>
<div class="t" style="top:1548.88px;font-size:12.5px;line-height:16.25px;color:#3e3a39;left:148.38px;width:800px;text-align:center;">胶片设备</div>
<div class="t" style="top:1548.88px;font-size:12.5px;line-height:16.25px;color:#3e3a39;left:241.10px;width:800px;text-align:center;">装卸机器人</div>
<div class="t" style="top:1548.88px;font-size:12.5px;line-height:16.25px;color:#3e3a39;left:315.38px;width:800px;text-align:center;">自动打包机</div>
<div class="t" style="top:1548.88px;font-size:12.5px;line-height:16.25px;color:#3e3a39;left:416.00px;width:800px;text-align:center;">AGV称重</div>
<div class="t" style="top:1548.88px;font-size:12.5px;line-height:16.25px;color:#3e3a39;left:511.62px;width:800px;text-align:center;">传感器</div>
<div class="t" style="top:1548.88px;font-size:12.5px;line-height:16.25px;color:#3e3a39;left:676.12px;width:800px;text-align:center;">智能手机</div>
<div class="t" style="top:476.45px;font-size:27px;line-height:35.1px;color:#231815;left:1444.80px;width:800px;text-align:center;font-weight:500;-webkit-text-stroke:0.6px #231815;">金创<span style="font-size:29.6px;letter-spacing:0.3px;margin-left:2px">MOM</span></div>
<div class="t" style="top:506.85px;font-size:27px;line-height:35.1px;color:#231815;letter-spacing:0.5px;left:1444.00px;width:800px;text-align:center;font-weight:500;-webkit-text-stroke:0.6px #231815;">数智化云平台</div>
<div class="t" style="top:900.50px;font-size:22px;line-height:28.6px;color:#3e3a39;left:997.10px;width:800px;text-align:center;transform:scaleX(0.9200);transform-origin:50% 50%;">PC</div>
<div class="t" style="top:899.00px;font-size:22px;line-height:28.6px;color:#3e3a39;left:1950.60px;width:800px;text-align:center;transform:scaleX(0.9200);transform-origin:50% 50%;">PC</div>
<div class="t" style="top:897.30px;font-size:20px;line-height:30.4px;color:#3e3a39;left:1551.60px;font-weight:300;">智慧终端+<br>设备联网</div>
<div class="t" style="top:894.20px;font-size:20px;line-height:30.4px;color:#3e3a39;left:1739.10px;font-weight:300;">智慧终端+<br>设备联网</div>
<div class="t" style="top:898.60px;font-size:20px;line-height:30.4px;color:#3e3a39;left:1923.70px;font-weight:300;">智慧终端+<br>设备联网</div>
<div class="t" style="top:896.80px;font-size:20px;line-height:30.4px;color:#3e3a39;left:2111.40px;font-weight:300;">智慧终端+<br>设备联网</div>
<div class="t" style="top:1030.75px;font-size:15px;line-height:19.5px;color:#4a4746;left:997.25px;width:800px;text-align:center;font-weight:300;">领</div>
<div class="t" style="top:1051.50px;font-size:15px;line-height:19.5px;color:#4a4746;left:997.25px;width:800px;text-align:center;font-weight:300;">料</div>
<div class="t" style="top:1072.25px;font-size:15px;line-height:19.5px;color:#4a4746;left:997.25px;width:800px;text-align:center;font-weight:300;">单</div>
<div class="t" style="top:1036.00px;font-size:15px;line-height:19.5px;color:#4a4746;left:1188.75px;width:800px;text-align:center;font-weight:300;">工</div>
<div class="t" style="top:1056.50px;font-size:15px;line-height:19.5px;color:#4a4746;left:1188.75px;width:800px;text-align:center;font-weight:300;">单</div>
<div class="t" style="top:1036.00px;font-size:15px;line-height:19.5px;color:#4a4746;left:1371.75px;width:800px;text-align:center;font-weight:300;">工</div>
<div class="t" style="top:1056.50px;font-size:15px;line-height:19.5px;color:#4a4746;left:1371.75px;width:800px;text-align:center;font-weight:300;">单</div>
<div class="t" style="top:1037.15px;font-size:15px;line-height:19.5px;color:#4a4746;left:1557.90px;width:800px;text-align:center;font-weight:300;">工</div>
<div class="t" style="top:1056.95px;font-size:15px;line-height:19.5px;color:#4a4746;left:1557.90px;width:800px;text-align:center;font-weight:300;">单</div>
<div class="t" style="top:1033.15px;font-size:15px;line-height:19.5px;color:#4a4746;left:1756.50px;width:800px;text-align:center;font-weight:300;">工</div>
<div class="t" style="top:1052.95px;font-size:15px;line-height:19.5px;color:#4a4746;left:1756.50px;width:800px;text-align:center;font-weight:300;">单</div>
<div class="t" style="top:1019.75px;font-size:15px;line-height:19.5px;color:#4a4746;left:1943.70px;width:800px;text-align:center;font-weight:300;">入</div>
<div class="t" style="top:1041.55px;font-size:15px;line-height:19.5px;color:#4a4746;left:1943.70px;width:800px;text-align:center;font-weight:300;">库</div>
<div class="t" style="top:1061.95px;font-size:15px;line-height:19.5px;color:#4a4746;left:1943.70px;width:800px;text-align:center;font-weight:300;">单</div>
<div class="t" style="top:1230.24px;font-size:14.7px;line-height:19.11px;color:#3f3c3b;left:1083.10px;width:800px;text-align:center;font-weight:300;">输送线</div>
<div class="t" style="top:1230.24px;font-size:14.7px;line-height:19.11px;color:#3f3c3b;left:1271.75px;width:800px;text-align:center;font-weight:300;">塑料筐</div>
<div class="t" style="top:1230.55px;font-size:14.7px;line-height:19.11px;color:#3f3c3b;left:1465.40px;width:800px;text-align:center;font-weight:300;">塑料筐</div>
<div class="t" style="top:1230.94px;font-size:14.7px;line-height:19.11px;color:#3f3c3b;left:1657.40px;width:800px;text-align:center;font-weight:300;">塑料筐</div>
<div class="t" style="top:1230.94px;font-size:14.7px;line-height:19.11px;color:#3f3c3b;left:1851.60px;width:800px;text-align:center;font-weight:300;">塑料筐</div>
<div class="t" style="top:1176.64px;font-size:14.7px;line-height:19.11px;color:#3e3a39;left:1081.50px;width:800px;text-align:center;font-weight:300;">称重-挂牌</div>
<div class="t" style="top:1181.44px;font-size:14.7px;line-height:19.11px;color:#3e3a39;left:1273.62px;width:800px;text-align:center;font-weight:300;">称重+RFID</div>
<div class="t" style="top:1181.04px;font-size:14.7px;line-height:19.11px;color:#3e3a39;left:1470.80px;width:800px;text-align:center;font-weight:300;">称重+RFID</div>
<div class="t" style="top:1178.64px;font-size:14.7px;line-height:19.11px;color:#3e3a39;left:1664.90px;width:800px;text-align:center;font-weight:300;">称重+RFID</div>
<div class="t" style="top:1178.64px;font-size:14.7px;line-height:19.11px;color:#3e3a39;left:1862.00px;width:800px;text-align:center;font-weight:300;">称重+RFID</div>
<div class="t" style="top:1342.00px;font-size:20px;line-height:26.0px;color:#3e3a39;left:986.25px;width:800px;text-align:center;font-weight:300;">原料库/IQC</div>
<div class="t" style="top:1342.00px;font-size:20px;line-height:26.0px;color:#3e3a39;left:1172.62px;width:800px;text-align:center;font-weight:300;">解冻/清洗/预制</div>
<div class="t" style="top:1342.00px;font-size:20px;line-height:26.0px;color:#3e3a39;left:1374.62px;width:800px;text-align:center;font-weight:300;">蒸煮/成型/冷却</div>
<div class="t" style="top:1342.00px;font-size:20px;line-height:26.0px;color:#3e3a39;left:1567.35px;width:800px;text-align:center;font-weight:300;">加工/调味/卤制</div>
<div class="t" style="top:1342.00px;font-size:20px;line-height:26.0px;color:#3e3a39;left:1759.75px;width:800px;text-align:center;font-weight:300;">称重/包装</div>
<div class="t" style="top:1342.00px;font-size:20px;line-height:26.0px;color:#3e3a39;left:1944.20px;width:800px;text-align:center;font-weight:300;">成品仓</div>
<div class="t" style="top:1438.50px;font-size:20px;line-height:26.0px;color:#2f2c2b;left:1098.85px;width:800px;text-align:center;font-weight:300;">温度传感器</div>
<div class="t" style="top:1438.50px;font-size:20px;line-height:26.0px;color:#2f2c2b;left:1234.15px;width:800px;text-align:center;font-weight:300;">液位传感器</div>
<div class="t" style="top:1438.50px;font-size:20px;line-height:26.0px;color:#2f2c2b;left:1373.65px;width:800px;text-align:center;font-weight:300;">温度传感器</div>
<div class="t" style="top:1439.50px;font-size:20px;line-height:26.0px;color:#2f2c2b;left:1562.10px;width:800px;text-align:center;font-weight:300;">称重传感器</div>
<div class="t" style="top:1439.50px;font-size:20px;line-height:26.0px;color:#2f2c2b;left:1754.30px;width:800px;text-align:center;font-weight:300;">称重传感器</div>
<div class="t" style="top:1485.70px;font-size:20px;line-height:26.0px;color:#2f2c2b;left:1101.10px;width:800px;text-align:center;font-weight:300;">流量传感器</div>
<div class="t" style="top:1485.70px;font-size:20px;line-height:26.0px;color:#2f2c2b;left:1236.65px;width:800px;text-align:center;font-weight:300;">称重传感器</div>
<div class="t" style="top:1485.70px;font-size:20px;line-height:26.0px;color:#2f2c2b;left:1375.90px;width:800px;text-align:center;font-weight:300;">称重传感器</div>
<div class="t" style="left:86.1px;top:1613.3px;font-size:30px;line-height:30px;color:#231815;transform:rotate(90deg) scaleX(0.882);transform-origin:0 50%;-webkit-text-stroke:0.55px #fff;">PAGE</div>
<div class="t" style="top:1619.62px;font-size:37.5px;line-height:48.75px;color:#231815;font-weight:bold;letter-spacing:1.2px;left:107.30px;transform:scaleX(0.8500);transform-origin:0 50%;">11</div>
<div class="t" style="top:1661.83px;font-size:37.5px;line-height:48.75px;color:#231815;font-weight:bold;letter-spacing:1.2px;left:107.30px;transform:scaleX(0.9300);transform-origin:0 50%;">12</div>
<div class="t" style="top:1674.90px;font-size:20px;line-height:26.0px;color:#231815;font-weight:bold;letter-spacing:0.8px;left:1968.20px;width:800px;text-align:center;">数智规划</div>
</div></body></html>
